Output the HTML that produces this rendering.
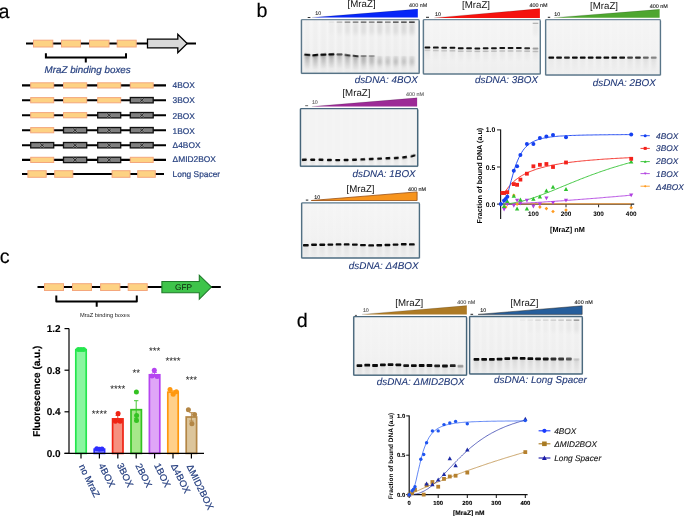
<!DOCTYPE html>
<html><head><meta charset="utf-8"><title>MraZ binding figure</title>
<style>html,body{margin:0;padding:0;background:#fff;overflow:hidden}svg{display:block;position:absolute;left:0;top:0}text{font-family:"Liberation Sans",Arial,sans-serif;text-rendering:geometricPrecision}</style>
</head><body>
<svg width="685" height="516" viewBox="0 0 685 516">
<rect width="685" height="516" fill="#fff"/>
<defs>
<filter id="b1" x="-20%" y="-100%" width="140%" height="300%"><feGaussianBlur stdDeviation="0.7 0.55"/></filter>
<filter id="b2" x="-30%" y="-50%" width="160%" height="200%"><feGaussianBlur stdDeviation="1.2 2.2"/></filter>
<filter id="b3" x="-30%" y="-30%" width="160%" height="160%"><feGaussianBlur stdDeviation="1.0 1.0"/></filter>
<linearGradient id="gelbg" x1="0" y1="0" x2="0" y2="1"><stop offset="0" stop-color="#f6f6f6"/><stop offset="0.6" stop-color="#f3f3f3"/><stop offset="1" stop-color="#efefef"/></linearGradient>
<filter id="b4" x="-30%" y="-10%" width="160%" height="120%"><feGaussianBlur stdDeviation="0.9 0.5"/></filter>
<linearGradient id="sm" x1="0" y1="0" x2="0" y2="1"><stop offset="0" stop-color="#000" stop-opacity="1"/><stop offset="0.35" stop-color="#000" stop-opacity="0.55"/><stop offset="1" stop-color="#000" stop-opacity="0"/></linearGradient>
</defs>
<text x="-1.60" y="18.40" font-size="19.7" fill="#000" stroke="#000" stroke-width="0.15" >a</text>
<text x="256.60" y="17.30" font-size="19.7" fill="#000" stroke="#000" stroke-width="0.15" >b</text>
<text x="-0.20" y="262.80" font-size="19.7" fill="#000" stroke="#000" stroke-width="0.15" >c</text>
<text x="296.70" y="327.10" font-size="19.7" fill="#000" stroke="#000" stroke-width="0.15" >d</text>
<line x1="26" y1="43.5" x2="196" y2="43.5" stroke="#000" stroke-width="2.1"/>
<rect x="33.5" y="40.2" width="19.3" height="6.8" fill="#fdd283" stroke="#f4a77c" stroke-width="1"/>
<rect x="61.5" y="40.2" width="19.0" height="6.8" fill="#fdd283" stroke="#f4a77c" stroke-width="1"/>
<rect x="89.5" y="40.2" width="19.5" height="6.8" fill="#fdd283" stroke="#f4a77c" stroke-width="1"/>
<rect x="117.2" y="40.2" width="19.0" height="6.8" fill="#fdd283" stroke="#f4a77c" stroke-width="1"/>
<path d="M147.5 39.2H177.8V34.2L187.2 43.5L177.8 52.6V47.8H147.5Z" fill="#d9d9d9" stroke="#000" stroke-width="1.3" stroke-linejoin="miter"/>
<path d="M45.9 53.3V57.6H126V53.3M85.8 57.6V62.6" fill="none" stroke="#000" stroke-width="2"/>
<text x="44.60" y="72.60" font-size="9.8" fill="#253f7f" stroke="#253f7f" stroke-width="0.2" font-style="italic" >MraZ binding boxes</text>
<line x1="22" y1="85.4" x2="166" y2="85.4" stroke="#000" stroke-width="2.1"/>
<rect x="30.7" y="82.8" width="23.0" height="5.2" fill="#fdd283" stroke="#f4a77c" stroke-width="1"/>
<rect x="63.5" y="82.8" width="23.2" height="5.2" fill="#fdd283" stroke="#f4a77c" stroke-width="1"/>
<rect x="97.7" y="82.8" width="23.0" height="5.2" fill="#fdd283" stroke="#f4a77c" stroke-width="1"/>
<rect x="130.3" y="82.8" width="22.9" height="5.2" fill="#fdd283" stroke="#f4a77c" stroke-width="1"/>
<text x="172.60" y="87.80" font-size="8.4" fill="#253f7f" stroke="#253f7f" stroke-width="0.2" >4BOX</text>
<line x1="22" y1="100.2" x2="166" y2="100.2" stroke="#000" stroke-width="2.1"/>
<rect x="30.7" y="97.6" width="23.0" height="5.2" fill="#fdd283" stroke="#f4a77c" stroke-width="1"/>
<rect x="63.5" y="97.6" width="23.2" height="5.2" fill="#fdd283" stroke="#f4a77c" stroke-width="1"/>
<rect x="97.7" y="97.6" width="23.0" height="5.2" fill="#fdd283" stroke="#f4a77c" stroke-width="1"/>
<rect x="130.3" y="97.5" width="22.9" height="5.4" fill="#7f7f7f" stroke="#111" stroke-width="1.3"/>
<path d="M139.6 98.3L143.9 102.1M143.9 98.3L139.6 102.1" stroke="#a2a2a2" stroke-width="1.5" fill="none"/>
<path d="M139.6 98.3L143.9 102.1M143.9 98.3L139.6 102.1" stroke="#111" stroke-width="0.8" fill="none"/>
<text x="172.60" y="103.10" font-size="8.4" fill="#253f7f" stroke="#253f7f" stroke-width="0.2" >3BOX</text>
<line x1="22" y1="115.2" x2="166" y2="115.2" stroke="#000" stroke-width="2.1"/>
<rect x="30.7" y="112.6" width="23.0" height="5.2" fill="#fdd283" stroke="#f4a77c" stroke-width="1"/>
<rect x="63.5" y="112.6" width="23.2" height="5.2" fill="#fdd283" stroke="#f4a77c" stroke-width="1"/>
<rect x="97.7" y="112.5" width="23.0" height="5.4" fill="#7f7f7f" stroke="#111" stroke-width="1.3"/>
<path d="M107.0 113.3L111.4 117.1M111.4 113.3L107.0 117.1" stroke="#a2a2a2" stroke-width="1.5" fill="none"/>
<path d="M107.0 113.3L111.4 117.1M111.4 113.3L107.0 117.1" stroke="#111" stroke-width="0.8" fill="none"/>
<rect x="130.3" y="112.5" width="22.9" height="5.4" fill="#7f7f7f" stroke="#111" stroke-width="1.3"/>
<path d="M139.6 113.3L143.9 117.1M143.9 113.3L139.6 117.1" stroke="#a2a2a2" stroke-width="1.5" fill="none"/>
<path d="M139.6 113.3L143.9 117.1M143.9 113.3L139.6 117.1" stroke="#111" stroke-width="0.8" fill="none"/>
<text x="172.60" y="118.70" font-size="8.4" fill="#253f7f" stroke="#253f7f" stroke-width="0.2" >2BOX</text>
<line x1="22" y1="130.2" x2="166" y2="130.2" stroke="#000" stroke-width="2.1"/>
<rect x="30.7" y="127.6" width="23.0" height="5.2" fill="#fdd283" stroke="#f4a77c" stroke-width="1"/>
<rect x="63.5" y="127.5" width="23.2" height="5.4" fill="#7f7f7f" stroke="#111" stroke-width="1.3"/>
<path d="M72.9 128.3L77.3 132.1M77.3 128.3L72.9 132.1" stroke="#a2a2a2" stroke-width="1.5" fill="none"/>
<path d="M72.9 128.3L77.3 132.1M77.3 128.3L72.9 132.1" stroke="#111" stroke-width="0.8" fill="none"/>
<rect x="97.7" y="127.5" width="23.0" height="5.4" fill="#7f7f7f" stroke="#111" stroke-width="1.3"/>
<path d="M107.0 128.3L111.4 132.1M111.4 128.3L107.0 132.1" stroke="#a2a2a2" stroke-width="1.5" fill="none"/>
<path d="M107.0 128.3L111.4 132.1M111.4 128.3L107.0 132.1" stroke="#111" stroke-width="0.8" fill="none"/>
<rect x="130.3" y="127.5" width="22.9" height="5.4" fill="#7f7f7f" stroke="#111" stroke-width="1.3"/>
<path d="M139.6 128.3L143.9 132.1M143.9 128.3L139.6 132.1" stroke="#a2a2a2" stroke-width="1.5" fill="none"/>
<path d="M139.6 128.3L143.9 132.1M143.9 128.3L139.6 132.1" stroke="#111" stroke-width="0.8" fill="none"/>
<text x="172.60" y="133.80" font-size="8.4" fill="#253f7f" stroke="#253f7f" stroke-width="0.2" >1BOX</text>
<line x1="22" y1="145.2" x2="166" y2="145.2" stroke="#000" stroke-width="2.1"/>
<rect x="30.7" y="142.5" width="23.0" height="5.4" fill="#7f7f7f" stroke="#111" stroke-width="1.3"/>
<path d="M40.0 143.3L44.4 147.1M44.4 143.3L40.0 147.1" stroke="#a2a2a2" stroke-width="1.5" fill="none"/>
<path d="M40.0 143.3L44.4 147.1M44.4 143.3L40.0 147.1" stroke="#111" stroke-width="0.8" fill="none"/>
<rect x="63.5" y="142.5" width="23.2" height="5.4" fill="#7f7f7f" stroke="#111" stroke-width="1.3"/>
<path d="M72.9 143.3L77.3 147.1M77.3 143.3L72.9 147.1" stroke="#a2a2a2" stroke-width="1.5" fill="none"/>
<path d="M72.9 143.3L77.3 147.1M77.3 143.3L72.9 147.1" stroke="#111" stroke-width="0.8" fill="none"/>
<rect x="97.7" y="142.5" width="23.0" height="5.4" fill="#7f7f7f" stroke="#111" stroke-width="1.3"/>
<path d="M107.0 143.3L111.4 147.1M111.4 143.3L107.0 147.1" stroke="#a2a2a2" stroke-width="1.5" fill="none"/>
<path d="M107.0 143.3L111.4 147.1M111.4 143.3L107.0 147.1" stroke="#111" stroke-width="0.8" fill="none"/>
<rect x="130.3" y="142.5" width="22.9" height="5.4" fill="#7f7f7f" stroke="#111" stroke-width="1.3"/>
<path d="M139.6 143.3L143.9 147.1M143.9 143.3L139.6 147.1" stroke="#a2a2a2" stroke-width="1.5" fill="none"/>
<path d="M139.6 143.3L143.9 147.1M143.9 143.3L139.6 147.1" stroke="#111" stroke-width="0.8" fill="none"/>
<text x="172.60" y="148.25" font-size="8.4" fill="#253f7f" stroke="#253f7f" stroke-width="0.2" >Δ4BOX</text>
<line x1="22" y1="159.9" x2="166" y2="159.9" stroke="#000" stroke-width="2.1"/>
<rect x="30.7" y="157.3" width="23.0" height="5.2" fill="#fdd283" stroke="#f4a77c" stroke-width="1"/>
<rect x="63.5" y="157.2" width="23.2" height="5.4" fill="#7f7f7f" stroke="#111" stroke-width="1.3"/>
<path d="M72.9 158.0L77.3 161.8M77.3 158.0L72.9 161.8" stroke="#a2a2a2" stroke-width="1.5" fill="none"/>
<path d="M72.9 158.0L77.3 161.8M77.3 158.0L72.9 161.8" stroke="#111" stroke-width="0.8" fill="none"/>
<rect x="97.7" y="157.2" width="23.0" height="5.4" fill="#7f7f7f" stroke="#111" stroke-width="1.3"/>
<path d="M107.0 158.0L111.4 161.8M111.4 158.0L107.0 161.8" stroke="#a2a2a2" stroke-width="1.5" fill="none"/>
<path d="M107.0 158.0L111.4 161.8M111.4 158.0L107.0 161.8" stroke="#111" stroke-width="0.8" fill="none"/>
<rect x="130.3" y="157.3" width="22.9" height="5.2" fill="#fdd283" stroke="#f4a77c" stroke-width="1"/>
<text x="172.60" y="161.80" font-size="8.4" fill="#253f7f" stroke="#253f7f" stroke-width="0.2" >ΔMID2BOX</text>
<line x1="22" y1="174.0" x2="164" y2="174.0" stroke="#000" stroke-width="2.1"/>
<rect x="27.9" y="170.7" width="18.3" height="6.6" fill="#fdd283" stroke="#f4a77c" stroke-width="1"/>
<rect x="54.7" y="170.7" width="18.1" height="6.6" fill="#fdd283" stroke="#f4a77c" stroke-width="1"/>
<rect x="112.1" y="170.7" width="17.9" height="6.6" fill="#fdd283" stroke="#f4a77c" stroke-width="1"/>
<rect x="137.7" y="170.7" width="17.6" height="6.6" fill="#fdd283" stroke="#f4a77c" stroke-width="1"/>
<text x="172.60" y="177.20" font-size="8.4" fill="#253f7f" stroke="#253f7f" stroke-width="0.2" >Long Spacer</text>
<g>
<rect x="301.55" y="19.65" width="117.50" height="53.60" fill="url(#gelbg)"/>
<clipPath id="c301_19"><rect x="301.55" y="19.65" width="117.50" height="53.60"/></clipPath>
<g clip-path="url(#c301_19)">
<rect x="304.6" y="19.6" width="5.4" height="53.6" fill="#000" opacity="0.02" filter="url(#b3)"/>
<rect x="304.7" y="54.3" width="5.2" height="15" fill="url(#sm)" opacity="0.35" filter="url(#b4)"/>
<rect x="304.3" y="53.75" width="6.0" height="2.1" rx="0.7" fill="#000" opacity="0.95" filter="url(#b1)" transform="rotate(6 307.3 54.8)"/>
<rect x="312.6" y="19.6" width="5.4" height="53.6" fill="#000" opacity="0.02" filter="url(#b3)"/>
<rect x="312.7" y="54.6" width="5.2" height="15" fill="url(#sm)" opacity="0.35" filter="url(#b4)"/>
<rect x="312.3" y="54.05" width="6.0" height="2.1" rx="0.7" fill="#000" opacity="0.95" filter="url(#b1)" transform="rotate(-8 315.3 55.1)"/>
<rect x="320.7" y="19.6" width="5.4" height="53.6" fill="#000" opacity="0.02" filter="url(#b3)"/>
<rect x="320.8" y="54.1" width="5.2" height="15" fill="url(#sm)" opacity="0.35" filter="url(#b4)"/>
<rect x="320.4" y="53.55" width="6.0" height="2.1" rx="0.7" fill="#000" opacity="0.95" filter="url(#b1)" transform="rotate(-4 323.4 54.6)"/>
<rect x="328.7" y="19.6" width="5.4" height="53.6" fill="#000" opacity="0.02" filter="url(#b3)"/>
<rect x="328.8" y="53.9" width="5.2" height="15" fill="url(#sm)" opacity="0.35" filter="url(#b4)"/>
<rect x="328.4" y="53.35" width="6.0" height="2.1" rx="0.7" fill="#000" opacity="0.95" filter="url(#b1)" transform="rotate(-3 331.4 54.4)"/>
<rect x="328.6" y="21.5" width="5.6" height="1.3" fill="#000" opacity="0.05" filter="url(#b1)"/>
<rect x="328.8" y="22.0" width="5.2" height="12" fill="#000" opacity="0.01" filter="url(#b2)"/>
<rect x="336.8" y="19.6" width="5.4" height="53.6" fill="#000" opacity="0.02" filter="url(#b3)"/>
<rect x="336.9" y="53.9" width="5.2" height="15" fill="url(#sm)" opacity="0.26" filter="url(#b4)"/>
<rect x="336.5" y="53.35" width="6.0" height="2.1" rx="0.7" fill="#000" opacity="0.55" filter="url(#b1)"/>
<rect x="336.7" y="21.5" width="5.6" height="1.3" fill="#000" opacity="0.25" filter="url(#b1)"/>
<rect x="336.9" y="22.0" width="5.2" height="12" fill="#000" opacity="0.03" filter="url(#b2)"/>
<rect x="344.8" y="19.6" width="5.4" height="53.6" fill="#000" opacity="0.02" filter="url(#b3)"/>
<rect x="344.9" y="54.7" width="5.2" height="15" fill="url(#sm)" opacity="0.31" filter="url(#b4)"/>
<rect x="344.5" y="54.15" width="6.0" height="2.1" rx="0.7" fill="#000" opacity="0.70" filter="url(#b1)" transform="rotate(10 347.5 55.2)"/>
<rect x="344.7" y="21.5" width="5.6" height="1.3" fill="#000" opacity="0.45" filter="url(#b1)"/>
<rect x="344.9" y="22.0" width="5.2" height="12" fill="#000" opacity="0.05" filter="url(#b2)"/>
<rect x="352.9" y="19.6" width="5.4" height="53.6" fill="#000" opacity="0.02" filter="url(#b3)"/>
<rect x="353.0" y="55.5" width="5.2" height="15" fill="url(#sm)" opacity="0.31" filter="url(#b4)"/>
<rect x="352.6" y="54.95" width="6.0" height="2.1" rx="0.7" fill="#000" opacity="0.70" filter="url(#b1)" transform="rotate(8 355.6 56.0)"/>
<rect x="352.8" y="21.5" width="5.6" height="1.3" fill="#000" opacity="0.50" filter="url(#b1)"/>
<rect x="353.0" y="22.0" width="5.2" height="12" fill="#000" opacity="0.06" filter="url(#b2)"/>
<rect x="360.9" y="19.6" width="5.4" height="53.6" fill="#000" opacity="0.02" filter="url(#b3)"/>
<rect x="361.0" y="55.5" width="5.2" height="15" fill="url(#sm)" opacity="0.26" filter="url(#b4)"/>
<ellipse cx="363.6" cy="61.0" rx="2.6" ry="3.2" fill="#000" opacity="0.08" filter="url(#b2)"/>
<rect x="360.6" y="54.95" width="6.0" height="2.1" rx="0.7" fill="#000" opacity="0.30" filter="url(#b1)"/>
<rect x="360.8" y="21.5" width="5.6" height="1.3" fill="#000" opacity="0.60" filter="url(#b1)"/>
<rect x="361.0" y="22.0" width="5.2" height="12" fill="#000" opacity="0.07" filter="url(#b2)"/>
<rect x="369.0" y="19.6" width="5.4" height="53.6" fill="#000" opacity="0.02" filter="url(#b3)"/>
<rect x="369.1" y="55.5" width="5.2" height="15" fill="url(#sm)" opacity="0.22" filter="url(#b4)"/>
<ellipse cx="371.7" cy="61.0" rx="2.6" ry="3.2" fill="#000" opacity="0.10" filter="url(#b2)"/>
<rect x="368.7" y="54.95" width="6.0" height="2.1" rx="0.7" fill="#000" opacity="0.22" filter="url(#b1)"/>
<rect x="368.9" y="21.5" width="5.6" height="1.3" fill="#000" opacity="0.50" filter="url(#b1)"/>
<rect x="369.1" y="22.0" width="5.2" height="12" fill="#000" opacity="0.06" filter="url(#b2)"/>
<rect x="377.0" y="19.6" width="5.4" height="53.6" fill="#000" opacity="0.02" filter="url(#b3)"/>
<rect x="377.1" y="56.3" width="5.2" height="15" fill="url(#sm)" opacity="0.07" filter="url(#b4)"/>
<ellipse cx="379.7" cy="61.8" rx="2.6" ry="3.2" fill="#000" opacity="0.17" filter="url(#b2)"/>
<rect x="376.9" y="21.5" width="5.6" height="1.3" fill="#000" opacity="0.65" filter="url(#b1)"/>
<rect x="377.1" y="22.0" width="5.2" height="12" fill="#000" opacity="0.08" filter="url(#b2)"/>
<rect x="385.1" y="19.6" width="5.4" height="53.6" fill="#000" opacity="0.02" filter="url(#b3)"/>
<rect x="385.2" y="56.3" width="5.2" height="15" fill="url(#sm)" opacity="0.07" filter="url(#b4)"/>
<ellipse cx="387.8" cy="61.8" rx="2.6" ry="3.2" fill="#000" opacity="0.15" filter="url(#b2)"/>
<rect x="385.0" y="21.5" width="5.6" height="1.3" fill="#000" opacity="0.50" filter="url(#b1)"/>
<rect x="385.2" y="22.0" width="5.2" height="12" fill="#000" opacity="0.06" filter="url(#b2)"/>
<rect x="393.1" y="19.6" width="5.4" height="53.6" fill="#000" opacity="0.02" filter="url(#b3)"/>
<rect x="393.2" y="56.3" width="5.2" height="15" fill="url(#sm)" opacity="0.07" filter="url(#b4)"/>
<ellipse cx="395.8" cy="61.8" rx="2.6" ry="3.2" fill="#000" opacity="0.17" filter="url(#b2)"/>
<rect x="393.0" y="21.5" width="5.6" height="1.3" fill="#000" opacity="0.70" filter="url(#b1)"/>
<rect x="393.2" y="22.0" width="5.2" height="12" fill="#000" opacity="0.08" filter="url(#b2)"/>
<rect x="401.2" y="19.6" width="5.4" height="53.6" fill="#000" opacity="0.02" filter="url(#b3)"/>
<rect x="401.3" y="56.3" width="5.2" height="15" fill="url(#sm)" opacity="0.07" filter="url(#b4)"/>
<ellipse cx="403.9" cy="61.8" rx="2.6" ry="3.2" fill="#000" opacity="0.15" filter="url(#b2)"/>
<rect x="401.1" y="21.5" width="5.6" height="1.3" fill="#000" opacity="0.75" filter="url(#b1)"/>
<rect x="401.3" y="22.0" width="5.2" height="12" fill="#000" opacity="0.09" filter="url(#b2)"/>
<rect x="409.2" y="19.6" width="5.4" height="53.6" fill="#000" opacity="0.02" filter="url(#b3)"/>
<rect x="409.3" y="56.3" width="5.2" height="15" fill="url(#sm)" opacity="0.07" filter="url(#b4)"/>
<ellipse cx="411.9" cy="61.8" rx="2.6" ry="3.2" fill="#000" opacity="0.15" filter="url(#b2)"/>
<rect x="409.1" y="21.5" width="5.6" height="1.3" fill="#000" opacity="0.85" filter="url(#b1)"/>
<rect x="409.3" y="22.0" width="5.2" height="12" fill="#000" opacity="0.10" filter="url(#b2)"/>
</g>
<rect x="301.55" y="19.65" width="117.50" height="53.60" rx="0.8" fill="none" stroke="#71899a" stroke-width="1.3"/>
<path d="M301.20 19.65V73.60H419.40V20.65" fill="none" stroke="#3f5f74" stroke-width="0.6" stroke-linejoin="round"/>
<path d="M312.0 17.6L417.8 9.0V17.6Z" fill="#0626f8"/>
<path d="M312.0 17.5L417.8 9.2" stroke="#000" stroke-opacity="0.3" stroke-width="0.5" fill="none"/>
<text x="361.60" y="6.90" font-size="9.7" fill="#111" text-anchor="middle" >[MraZ]</text>
<text x="409.10" y="6.70" font-size="5.45" fill="#333" stroke="#333" stroke-width="0.12" >400 nM</text>
<text x="315.30" y="15.30" font-size="5.3" fill="#333" stroke="#333" stroke-width="0.12" >10</text>
<rect x="307.7" y="17.0" width="2.7" height="1" fill="#333"/>
<text x="417.80" y="83.00" font-size="9.9" fill="#1f3777" stroke="#1f3777" stroke-width="0.1" text-anchor="end" font-style="italic" >dsDNA: 4BOX</text>
</g>
<g>
<rect x="423.50" y="19.70" width="116.65" height="54.15" fill="url(#gelbg)"/>
<clipPath id="c423_19"><rect x="423.50" y="19.70" width="116.65" height="54.15"/></clipPath>
<g clip-path="url(#c423_19)">
<rect x="424.8" y="19.7" width="5.4" height="54.1" fill="#000" opacity="0.005" filter="url(#b3)"/>
<rect x="424.9" y="46.9" width="5.2" height="15" fill="url(#sm)" opacity="0.07" filter="url(#b4)"/>
<rect x="424.6" y="46.40" width="5.7" height="2.0" rx="0.7" fill="#000" opacity="0.95" filter="url(#b1)"/>
<rect x="424.6" y="49.7" width="5.7" height="1.4" fill="#000" opacity="0.12" filter="url(#b1)"/>
<rect x="433.1" y="19.7" width="5.4" height="54.1" fill="#000" opacity="0.005" filter="url(#b3)"/>
<rect x="433.2" y="47.1" width="5.2" height="15" fill="url(#sm)" opacity="0.07" filter="url(#b4)"/>
<rect x="433.0" y="46.60" width="5.7" height="2.0" rx="0.7" fill="#000" opacity="0.90" filter="url(#b1)"/>
<rect x="433.0" y="49.9" width="5.7" height="1.4" fill="#000" opacity="0.15" filter="url(#b1)"/>
<rect x="441.4" y="19.7" width="5.4" height="54.1" fill="#000" opacity="0.005" filter="url(#b3)"/>
<rect x="441.5" y="47.3" width="5.2" height="15" fill="url(#sm)" opacity="0.07" filter="url(#b4)"/>
<rect x="441.3" y="46.80" width="5.7" height="2.0" rx="0.7" fill="#000" opacity="0.90" filter="url(#b1)"/>
<rect x="441.3" y="50.1" width="5.7" height="1.4" fill="#000" opacity="0.15" filter="url(#b1)"/>
<rect x="449.7" y="19.7" width="5.4" height="54.1" fill="#000" opacity="0.005" filter="url(#b3)"/>
<rect x="449.8" y="47.3" width="5.2" height="15" fill="url(#sm)" opacity="0.07" filter="url(#b4)"/>
<rect x="449.6" y="46.80" width="5.7" height="2.0" rx="0.7" fill="#000" opacity="0.92" filter="url(#b1)"/>
<rect x="449.6" y="50.1" width="5.7" height="1.4" fill="#000" opacity="0.18" filter="url(#b1)"/>
<rect x="458.0" y="19.7" width="5.4" height="54.1" fill="#000" opacity="0.005" filter="url(#b3)"/>
<rect x="458.1" y="47.7" width="5.2" height="15" fill="url(#sm)" opacity="0.07" filter="url(#b4)"/>
<rect x="457.9" y="47.20" width="5.7" height="2.0" rx="0.7" fill="#000" opacity="0.92" filter="url(#b1)"/>
<rect x="457.9" y="50.5" width="5.7" height="1.4" fill="#000" opacity="0.18" filter="url(#b1)"/>
<rect x="466.3" y="19.7" width="5.4" height="54.1" fill="#000" opacity="0.005" filter="url(#b3)"/>
<rect x="466.4" y="47.7" width="5.2" height="15" fill="url(#sm)" opacity="0.07" filter="url(#b4)"/>
<rect x="466.2" y="47.20" width="5.7" height="2.0" rx="0.7" fill="#000" opacity="0.90" filter="url(#b1)"/>
<rect x="466.2" y="50.5" width="5.7" height="1.4" fill="#000" opacity="0.18" filter="url(#b1)"/>
<rect x="474.6" y="19.7" width="5.4" height="54.1" fill="#000" opacity="0.005" filter="url(#b3)"/>
<rect x="474.7" y="47.9" width="5.2" height="15" fill="url(#sm)" opacity="0.07" filter="url(#b4)"/>
<rect x="474.5" y="47.40" width="5.7" height="2.0" rx="0.7" fill="#000" opacity="0.90" filter="url(#b1)"/>
<rect x="474.5" y="50.7" width="5.7" height="1.4" fill="#000" opacity="0.18" filter="url(#b1)"/>
<rect x="483.0" y="19.7" width="5.4" height="54.1" fill="#000" opacity="0.005" filter="url(#b3)"/>
<rect x="483.1" y="47.8" width="5.2" height="15" fill="url(#sm)" opacity="0.07" filter="url(#b4)"/>
<rect x="482.8" y="47.30" width="5.7" height="2.0" rx="0.7" fill="#000" opacity="0.90" filter="url(#b1)"/>
<rect x="482.8" y="50.6" width="5.7" height="1.4" fill="#000" opacity="0.18" filter="url(#b1)"/>
<rect x="491.3" y="19.7" width="5.4" height="54.1" fill="#000" opacity="0.005" filter="url(#b3)"/>
<rect x="491.4" y="47.7" width="5.2" height="15" fill="url(#sm)" opacity="0.07" filter="url(#b4)"/>
<rect x="491.1" y="47.20" width="5.7" height="2.0" rx="0.7" fill="#000" opacity="0.90" filter="url(#b1)"/>
<rect x="491.1" y="50.5" width="5.7" height="1.4" fill="#000" opacity="0.18" filter="url(#b1)"/>
<rect x="499.6" y="19.7" width="5.4" height="54.1" fill="#000" opacity="0.005" filter="url(#b3)"/>
<rect x="499.7" y="47.5" width="5.2" height="15" fill="url(#sm)" opacity="0.07" filter="url(#b4)"/>
<rect x="499.4" y="47.00" width="5.7" height="2.0" rx="0.7" fill="#000" opacity="0.90" filter="url(#b1)"/>
<rect x="499.4" y="50.3" width="5.7" height="1.4" fill="#000" opacity="0.18" filter="url(#b1)"/>
<rect x="507.9" y="19.7" width="5.4" height="54.1" fill="#000" opacity="0.005" filter="url(#b3)"/>
<rect x="508.0" y="47.5" width="5.2" height="15" fill="url(#sm)" opacity="0.07" filter="url(#b4)"/>
<rect x="507.7" y="47.00" width="5.7" height="2.0" rx="0.7" fill="#000" opacity="0.90" filter="url(#b1)"/>
<rect x="507.7" y="50.3" width="5.7" height="1.4" fill="#000" opacity="0.18" filter="url(#b1)"/>
<rect x="516.2" y="19.7" width="5.4" height="54.1" fill="#000" opacity="0.005" filter="url(#b3)"/>
<rect x="516.3" y="47.5" width="5.2" height="15" fill="url(#sm)" opacity="0.07" filter="url(#b4)"/>
<rect x="516.0" y="47.00" width="5.7" height="2.0" rx="0.7" fill="#000" opacity="0.90" filter="url(#b1)"/>
<rect x="516.0" y="50.3" width="5.7" height="1.4" fill="#000" opacity="0.18" filter="url(#b1)"/>
<rect x="524.5" y="19.7" width="5.4" height="54.1" fill="#000" opacity="0.005" filter="url(#b3)"/>
<rect x="524.6" y="47.7" width="5.2" height="15" fill="url(#sm)" opacity="0.07" filter="url(#b4)"/>
<rect x="524.3" y="47.20" width="5.7" height="2.0" rx="0.7" fill="#000" opacity="0.80" filter="url(#b1)"/>
<rect x="524.3" y="50.5" width="5.7" height="1.4" fill="#000" opacity="0.20" filter="url(#b1)"/>
<rect x="532.8" y="19.7" width="5.4" height="54.1" fill="#000" opacity="0.005" filter="url(#b3)"/>
<rect x="532.9" y="48.0" width="5.2" height="15" fill="url(#sm)" opacity="0.07" filter="url(#b4)"/>
<rect x="532.6" y="47.50" width="5.7" height="2.0" rx="0.7" fill="#000" opacity="0.30" filter="url(#b1)"/>
<rect x="532.6" y="50.8" width="5.7" height="1.4" fill="#000" opacity="0.18" filter="url(#b1)"/>
<rect x="532.7" y="22.7" width="5.6" height="1.3" fill="#000" opacity="0.25" filter="url(#b1)"/>
<rect x="532.9" y="23.2" width="5.2" height="12" fill="#000" opacity="0.03" filter="url(#b2)"/>
</g>
<rect x="423.50" y="19.70" width="116.65" height="54.15" rx="0.8" fill="none" stroke="#71899a" stroke-width="1.3"/>
<path d="M423.15 19.70V74.20H540.50V20.70" fill="none" stroke="#3f5f74" stroke-width="0.6" stroke-linejoin="round"/>
<path d="M434.2 17.9L539.9 8.6V17.9Z" fill="#f5130f"/>
<path d="M434.2 17.8L539.9 8.8" stroke="#000" stroke-opacity="0.3" stroke-width="0.5" fill="none"/>
<text x="476.00" y="7.50" font-size="9.7" fill="#111" text-anchor="middle" >[MraZ]</text>
<text x="529.40" y="6.80" font-size="5.45" fill="#222" stroke="#222" stroke-width="0.12" >400 nM</text>
<text x="435.00" y="15.55" font-size="5.3" fill="#222" stroke="#222" stroke-width="0.12" >10</text>
<rect x="426.0" y="16.8" width="3.0" height="1" fill="#222"/>
<text x="538.10" y="83.20" font-size="9.9" fill="#1f3777" stroke="#1f3777" stroke-width="0.1" text-anchor="end" font-style="italic" >dsDNA: 3BOX</text>
</g>
<g>
<rect x="545.75" y="19.60" width="114.60" height="55.30" fill="url(#gelbg)"/>
<clipPath id="c545_19"><rect x="545.75" y="19.60" width="114.60" height="55.30"/></clipPath>
<g clip-path="url(#c545_19)">
<rect x="548.5" y="19.6" width="5.4" height="55.3" fill="#000" opacity="0.005" filter="url(#b3)"/>
<rect x="548.6" y="57.1" width="5.2" height="15" fill="url(#sm)" opacity="0.04" filter="url(#b4)"/>
<rect x="548.4" y="56.40" width="5.7" height="2.4" rx="0.7" fill="#000" opacity="0.95" filter="url(#b1)"/>
<rect x="556.4" y="19.6" width="5.4" height="55.3" fill="#000" opacity="0.005" filter="url(#b3)"/>
<rect x="556.5" y="57.1" width="5.2" height="15" fill="url(#sm)" opacity="0.04" filter="url(#b4)"/>
<rect x="556.2" y="56.40" width="5.7" height="2.4" rx="0.7" fill="#000" opacity="0.92" filter="url(#b1)"/>
<rect x="564.3" y="19.6" width="5.4" height="55.3" fill="#000" opacity="0.005" filter="url(#b3)"/>
<rect x="564.4" y="57.1" width="5.2" height="15" fill="url(#sm)" opacity="0.04" filter="url(#b4)"/>
<rect x="564.1" y="56.40" width="5.7" height="2.4" rx="0.7" fill="#000" opacity="0.85" filter="url(#b1)"/>
<rect x="572.2" y="19.6" width="5.4" height="55.3" fill="#000" opacity="0.005" filter="url(#b3)"/>
<rect x="572.3" y="57.1" width="5.2" height="15" fill="url(#sm)" opacity="0.04" filter="url(#b4)"/>
<rect x="572.0" y="56.40" width="5.7" height="2.4" rx="0.7" fill="#000" opacity="0.95" filter="url(#b1)"/>
<rect x="580.0" y="19.6" width="5.4" height="55.3" fill="#000" opacity="0.005" filter="url(#b3)"/>
<rect x="580.1" y="57.1" width="5.2" height="15" fill="url(#sm)" opacity="0.04" filter="url(#b4)"/>
<rect x="579.9" y="56.40" width="5.7" height="2.4" rx="0.7" fill="#000" opacity="0.95" filter="url(#b1)"/>
<rect x="587.9" y="19.6" width="5.4" height="55.3" fill="#000" opacity="0.005" filter="url(#b3)"/>
<rect x="588.0" y="57.1" width="5.2" height="15" fill="url(#sm)" opacity="0.04" filter="url(#b4)"/>
<rect x="587.8" y="56.40" width="5.7" height="2.4" rx="0.7" fill="#000" opacity="0.95" filter="url(#b1)"/>
<rect x="595.8" y="19.6" width="5.4" height="55.3" fill="#000" opacity="0.005" filter="url(#b3)"/>
<rect x="595.9" y="57.1" width="5.2" height="15" fill="url(#sm)" opacity="0.04" filter="url(#b4)"/>
<rect x="595.7" y="56.40" width="5.7" height="2.4" rx="0.7" fill="#000" opacity="0.95" filter="url(#b1)"/>
<rect x="603.7" y="19.6" width="5.4" height="55.3" fill="#000" opacity="0.005" filter="url(#b3)"/>
<rect x="603.8" y="57.1" width="5.2" height="15" fill="url(#sm)" opacity="0.04" filter="url(#b4)"/>
<rect x="603.5" y="56.40" width="5.7" height="2.4" rx="0.7" fill="#000" opacity="0.95" filter="url(#b1)"/>
<rect x="611.6" y="19.6" width="5.4" height="55.3" fill="#000" opacity="0.005" filter="url(#b3)"/>
<rect x="611.7" y="57.1" width="5.2" height="15" fill="url(#sm)" opacity="0.04" filter="url(#b4)"/>
<rect x="611.4" y="56.40" width="5.7" height="2.4" rx="0.7" fill="#000" opacity="0.95" filter="url(#b1)"/>
<rect x="619.5" y="19.6" width="5.4" height="55.3" fill="#000" opacity="0.005" filter="url(#b3)"/>
<rect x="619.6" y="57.1" width="5.2" height="15" fill="url(#sm)" opacity="0.04" filter="url(#b4)"/>
<rect x="619.3" y="56.40" width="5.7" height="2.4" rx="0.7" fill="#000" opacity="0.92" filter="url(#b1)"/>
<rect x="627.3" y="19.6" width="5.4" height="55.3" fill="#000" opacity="0.005" filter="url(#b3)"/>
<rect x="627.4" y="57.1" width="5.2" height="15" fill="url(#sm)" opacity="0.07" filter="url(#b4)"/>
<rect x="627.2" y="56.40" width="5.7" height="2.4" rx="0.7" fill="#000" opacity="0.70" filter="url(#b1)"/>
<rect x="635.2" y="19.6" width="5.4" height="55.3" fill="#000" opacity="0.005" filter="url(#b3)"/>
<rect x="635.3" y="57.1" width="5.2" height="15" fill="url(#sm)" opacity="0.07" filter="url(#b4)"/>
<rect x="635.1" y="56.40" width="5.7" height="2.4" rx="0.7" fill="#000" opacity="0.80" filter="url(#b1)"/>
<rect x="643.1" y="19.6" width="5.4" height="55.3" fill="#000" opacity="0.005" filter="url(#b3)"/>
<rect x="643.2" y="57.1" width="5.2" height="15" fill="url(#sm)" opacity="0.09" filter="url(#b4)"/>
<rect x="643.0" y="56.40" width="5.7" height="2.4" rx="0.7" fill="#000" opacity="0.55" filter="url(#b1)"/>
<rect x="651.0" y="19.6" width="5.4" height="55.3" fill="#000" opacity="0.005" filter="url(#b3)"/>
<rect x="651.1" y="57.1" width="5.2" height="15" fill="url(#sm)" opacity="0.09" filter="url(#b4)"/>
<rect x="650.9" y="56.40" width="5.7" height="2.4" rx="0.7" fill="#000" opacity="0.40" filter="url(#b1)"/>
</g>
<rect x="545.75" y="19.60" width="114.60" height="55.30" rx="0.8" fill="none" stroke="#71899a" stroke-width="1.3"/>
<path d="M545.40 19.60V75.25H660.70V20.60" fill="none" stroke="#3f5f74" stroke-width="0.6" stroke-linejoin="round"/>
<path d="M554.0 17.7L659.6 9.3V17.7Z" fill="#4ea62f"/>
<path d="M554.0 17.6L659.6 9.5" stroke="#000" stroke-opacity="0.3" stroke-width="0.5" fill="none"/>
<text x="604.00" y="8.50" font-size="9.7" fill="#111" text-anchor="middle" >[MraZ]</text>
<text x="649.70" y="7.50" font-size="5.45" fill="#222" stroke="#222" stroke-width="0.12" >400 nM</text>
<text x="554.20" y="16.30" font-size="5.3" fill="#222" stroke="#222" stroke-width="0.12" >10</text>
<rect x="547.8" y="16.8" width="2.4" height="1" fill="#222"/>
<text x="655.90" y="85.50" font-size="9.9" fill="#1f3777" stroke="#1f3777" stroke-width="0.1" text-anchor="end" font-style="italic" >dsDNA: 2BOX</text>
</g>
<g>
<rect x="300.55" y="108.70" width="117.05" height="57.50" fill="#f4f4f4"/>
<clipPath id="c300_108"><rect x="300.55" y="108.70" width="117.05" height="57.50"/></clipPath>
<g clip-path="url(#c300_108)">
<rect x="301.6" y="108.7" width="5.4" height="57.5" fill="#000" opacity="0.004" filter="url(#b3)"/>
<rect x="301.7" y="159.3" width="5.2" height="15" fill="url(#sm)" opacity="0.07" filter="url(#b4)"/>
<rect x="301.9" y="158.60" width="4.8" height="2.4" rx="0.7" fill="#000" opacity="0.95" filter="url(#b1)" transform="rotate(-4 304.3 159.8)"/>
<rect x="310.0" y="108.7" width="5.4" height="57.5" fill="#000" opacity="0.004" filter="url(#b3)"/>
<rect x="310.1" y="159.3" width="5.2" height="15" fill="url(#sm)" opacity="0.07" filter="url(#b4)"/>
<rect x="310.3" y="158.60" width="4.8" height="2.4" rx="0.7" fill="#000" opacity="0.95" filter="url(#b1)"/>
<rect x="318.3" y="108.7" width="5.4" height="57.5" fill="#000" opacity="0.004" filter="url(#b3)"/>
<rect x="318.4" y="159.3" width="5.2" height="15" fill="url(#sm)" opacity="0.07" filter="url(#b4)"/>
<rect x="318.6" y="158.60" width="4.8" height="2.4" rx="0.7" fill="#000" opacity="0.95" filter="url(#b1)" transform="rotate(3 321.0 159.8)"/>
<rect x="326.7" y="108.7" width="5.4" height="57.5" fill="#000" opacity="0.004" filter="url(#b3)"/>
<rect x="326.8" y="159.5" width="5.2" height="15" fill="url(#sm)" opacity="0.07" filter="url(#b4)"/>
<rect x="327.0" y="158.80" width="4.8" height="2.4" rx="0.7" fill="#000" opacity="0.95" filter="url(#b1)"/>
<rect x="335.0" y="108.7" width="5.4" height="57.5" fill="#000" opacity="0.004" filter="url(#b3)"/>
<rect x="335.1" y="159.6" width="5.2" height="15" fill="url(#sm)" opacity="0.07" filter="url(#b4)"/>
<rect x="335.3" y="158.90" width="4.8" height="2.4" rx="0.7" fill="#000" opacity="0.95" filter="url(#b1)"/>
<rect x="343.4" y="108.7" width="5.4" height="57.5" fill="#000" opacity="0.004" filter="url(#b3)"/>
<rect x="343.5" y="159.5" width="5.2" height="15" fill="url(#sm)" opacity="0.07" filter="url(#b4)"/>
<rect x="343.7" y="158.80" width="4.8" height="2.4" rx="0.7" fill="#000" opacity="0.95" filter="url(#b1)"/>
<rect x="351.8" y="108.7" width="5.4" height="57.5" fill="#000" opacity="0.004" filter="url(#b3)"/>
<rect x="351.9" y="159.3" width="5.2" height="15" fill="url(#sm)" opacity="0.07" filter="url(#b4)"/>
<rect x="352.1" y="158.60" width="4.8" height="2.4" rx="0.7" fill="#000" opacity="0.95" filter="url(#b1)" transform="rotate(-3 354.5 159.8)"/>
<rect x="360.1" y="108.7" width="5.4" height="57.5" fill="#000" opacity="0.004" filter="url(#b3)"/>
<rect x="360.2" y="158.9" width="5.2" height="15" fill="url(#sm)" opacity="0.07" filter="url(#b4)"/>
<rect x="360.4" y="158.20" width="4.8" height="2.4" rx="0.7" fill="#000" opacity="0.95" filter="url(#b1)" transform="rotate(-4 362.8 159.4)"/>
<rect x="368.5" y="108.7" width="5.4" height="57.5" fill="#000" opacity="0.004" filter="url(#b3)"/>
<rect x="368.6" y="158.5" width="5.2" height="15" fill="url(#sm)" opacity="0.07" filter="url(#b4)"/>
<rect x="368.8" y="157.80" width="4.8" height="2.4" rx="0.7" fill="#000" opacity="0.95" filter="url(#b1)" transform="rotate(-4 371.2 159.0)"/>
<rect x="376.9" y="108.7" width="5.4" height="57.5" fill="#000" opacity="0.004" filter="url(#b3)"/>
<rect x="377.0" y="158.1" width="5.2" height="15" fill="url(#sm)" opacity="0.07" filter="url(#b4)"/>
<rect x="377.2" y="157.40" width="4.8" height="2.4" rx="0.7" fill="#000" opacity="0.95" filter="url(#b1)" transform="rotate(-4 379.6 158.6)"/>
<rect x="385.2" y="108.7" width="5.4" height="57.5" fill="#000" opacity="0.004" filter="url(#b3)"/>
<rect x="385.3" y="157.8" width="5.2" height="15" fill="url(#sm)" opacity="0.07" filter="url(#b4)"/>
<rect x="385.5" y="157.10" width="4.8" height="2.4" rx="0.7" fill="#000" opacity="0.95" filter="url(#b1)" transform="rotate(-4 387.9 158.3)"/>
<rect x="393.6" y="108.7" width="5.4" height="57.5" fill="#000" opacity="0.004" filter="url(#b3)"/>
<rect x="393.7" y="157.5" width="5.2" height="15" fill="url(#sm)" opacity="0.07" filter="url(#b4)"/>
<rect x="393.9" y="156.80" width="4.8" height="2.4" rx="0.7" fill="#000" opacity="0.95" filter="url(#b1)" transform="rotate(-6 396.3 158.0)"/>
<rect x="401.9" y="108.7" width="5.4" height="57.5" fill="#000" opacity="0.004" filter="url(#b3)"/>
<rect x="402.0" y="156.7" width="5.2" height="15" fill="url(#sm)" opacity="0.07" filter="url(#b4)"/>
<rect x="402.2" y="156.00" width="4.8" height="2.4" rx="0.7" fill="#000" opacity="0.95" filter="url(#b1)" transform="rotate(-10 404.6 157.2)"/>
<rect x="410.3" y="108.7" width="5.4" height="57.5" fill="#000" opacity="0.004" filter="url(#b3)"/>
<rect x="410.4" y="155.4" width="5.2" height="15" fill="url(#sm)" opacity="0.07" filter="url(#b4)"/>
<rect x="410.6" y="154.70" width="4.8" height="2.4" rx="0.7" fill="#000" opacity="0.95" filter="url(#b1)" transform="rotate(-19 413.0 155.9)"/>
</g>
<rect x="300.55" y="108.70" width="117.05" height="57.50" rx="0.8" fill="none" stroke="#4a697f" stroke-width="1.3"/>
<path d="M300.20 108.70V166.55H417.95V109.70" fill="none" stroke="#3f5f74" stroke-width="0.6" stroke-linejoin="round"/>
<path d="M311.9 106.6L417.1 97.7V106.6Z" fill="#9c2a96"/>
<path d="M311.9 106.5L417.1 97.9" stroke="#000" stroke-opacity="0.3" stroke-width="0.5" fill="none"/>
<text x="356.40" y="95.60" font-size="9.7" fill="#111" text-anchor="middle" >[MraZ]</text>
<text x="406.00" y="95.60" font-size="5.45" fill="#666" stroke="#666" stroke-width="0.12" >400 nM</text>
<text x="311.90" y="103.70" font-size="5.3" fill="#666" stroke="#666" stroke-width="0.12" >10</text>
<rect x="305.2" y="105.2" width="2.9" height="1" fill="#666"/>
<text x="415.70" y="176.70" font-size="9.9" fill="#1f3777" stroke="#1f3777" stroke-width="0.1" text-anchor="end" font-style="italic" >dsDNA: 1BOX</text>
</g>
<g>
<rect x="301.75" y="202.90" width="117.60" height="55.00" fill="url(#gelbg)"/>
<clipPath id="c301_202"><rect x="301.75" y="202.90" width="117.60" height="55.00"/></clipPath>
<g clip-path="url(#c301_202)">
<rect x="303.2" y="202.9" width="5.4" height="55.0" fill="#000" opacity="0.005" filter="url(#b3)"/>
<rect x="303.3" y="244.8" width="5.2" height="15" fill="url(#sm)" opacity="0.07" filter="url(#b4)"/>
<rect x="303.0" y="244.10" width="5.7" height="2.4" rx="0.7" fill="#000" opacity="0.95" filter="url(#b1)"/>
<rect x="311.4" y="202.9" width="5.4" height="55.0" fill="#000" opacity="0.005" filter="url(#b3)"/>
<rect x="311.5" y="244.3" width="5.2" height="15" fill="url(#sm)" opacity="0.07" filter="url(#b4)"/>
<rect x="311.2" y="243.60" width="5.7" height="2.4" rx="0.7" fill="#000" opacity="0.95" filter="url(#b1)"/>
<rect x="319.5" y="202.9" width="5.4" height="55.0" fill="#000" opacity="0.005" filter="url(#b3)"/>
<rect x="319.6" y="244.3" width="5.2" height="15" fill="url(#sm)" opacity="0.07" filter="url(#b4)"/>
<rect x="319.4" y="243.60" width="5.7" height="2.4" rx="0.7" fill="#000" opacity="0.95" filter="url(#b1)"/>
<rect x="327.7" y="202.9" width="5.4" height="55.0" fill="#000" opacity="0.005" filter="url(#b3)"/>
<rect x="327.8" y="244.1" width="5.2" height="15" fill="url(#sm)" opacity="0.07" filter="url(#b4)"/>
<rect x="327.5" y="243.40" width="5.7" height="2.4" rx="0.7" fill="#000" opacity="0.95" filter="url(#b1)"/>
<rect x="335.8" y="202.9" width="5.4" height="55.0" fill="#000" opacity="0.005" filter="url(#b3)"/>
<rect x="335.9" y="243.9" width="5.2" height="15" fill="url(#sm)" opacity="0.07" filter="url(#b4)"/>
<rect x="335.7" y="243.20" width="5.7" height="2.4" rx="0.7" fill="#000" opacity="0.95" filter="url(#b1)"/>
<rect x="344.0" y="202.9" width="5.4" height="55.0" fill="#000" opacity="0.005" filter="url(#b3)"/>
<rect x="344.1" y="243.9" width="5.2" height="15" fill="url(#sm)" opacity="0.07" filter="url(#b4)"/>
<rect x="343.8" y="243.20" width="5.7" height="2.4" rx="0.7" fill="#000" opacity="0.95" filter="url(#b1)"/>
<rect x="352.1" y="202.9" width="5.4" height="55.0" fill="#000" opacity="0.005" filter="url(#b3)"/>
<rect x="352.2" y="244.1" width="5.2" height="15" fill="url(#sm)" opacity="0.07" filter="url(#b4)"/>
<rect x="352.0" y="243.40" width="5.7" height="2.4" rx="0.7" fill="#000" opacity="0.95" filter="url(#b1)"/>
<rect x="360.3" y="202.9" width="5.4" height="55.0" fill="#000" opacity="0.005" filter="url(#b3)"/>
<rect x="360.4" y="244.6" width="5.2" height="15" fill="url(#sm)" opacity="0.07" filter="url(#b4)"/>
<rect x="360.1" y="243.90" width="5.7" height="2.4" rx="0.7" fill="#000" opacity="0.95" filter="url(#b1)"/>
<rect x="368.4" y="202.9" width="5.4" height="55.0" fill="#000" opacity="0.005" filter="url(#b3)"/>
<rect x="368.5" y="244.9" width="5.2" height="15" fill="url(#sm)" opacity="0.07" filter="url(#b4)"/>
<rect x="368.3" y="244.20" width="5.7" height="2.4" rx="0.7" fill="#000" opacity="0.95" filter="url(#b1)"/>
<rect x="376.6" y="202.9" width="5.4" height="55.0" fill="#000" opacity="0.005" filter="url(#b3)"/>
<rect x="376.7" y="244.7" width="5.2" height="15" fill="url(#sm)" opacity="0.07" filter="url(#b4)"/>
<rect x="376.4" y="244.00" width="5.7" height="2.4" rx="0.7" fill="#000" opacity="0.95" filter="url(#b1)"/>
<rect x="384.7" y="202.9" width="5.4" height="55.0" fill="#000" opacity="0.005" filter="url(#b3)"/>
<rect x="384.8" y="244.5" width="5.2" height="15" fill="url(#sm)" opacity="0.07" filter="url(#b4)"/>
<rect x="384.6" y="243.80" width="5.7" height="2.4" rx="0.7" fill="#000" opacity="0.95" filter="url(#b1)"/>
<rect x="392.9" y="202.9" width="5.4" height="55.0" fill="#000" opacity="0.005" filter="url(#b3)"/>
<rect x="393.0" y="244.1" width="5.2" height="15" fill="url(#sm)" opacity="0.07" filter="url(#b4)"/>
<rect x="392.7" y="243.40" width="5.7" height="2.4" rx="0.7" fill="#000" opacity="0.95" filter="url(#b1)"/>
<rect x="401.0" y="202.9" width="5.4" height="55.0" fill="#000" opacity="0.005" filter="url(#b3)"/>
<rect x="401.1" y="243.7" width="5.2" height="15" fill="url(#sm)" opacity="0.07" filter="url(#b4)"/>
<rect x="400.9" y="243.00" width="5.7" height="2.4" rx="0.7" fill="#000" opacity="0.95" filter="url(#b1)"/>
<rect x="409.2" y="202.9" width="5.4" height="55.0" fill="#000" opacity="0.005" filter="url(#b3)"/>
<rect x="409.3" y="243.9" width="5.2" height="15" fill="url(#sm)" opacity="0.07" filter="url(#b4)"/>
<rect x="409.0" y="243.20" width="5.7" height="2.4" rx="0.7" fill="#000" opacity="0.95" filter="url(#b1)"/>
</g>
<rect x="301.75" y="202.90" width="117.60" height="55.00" rx="0.8" fill="none" stroke="#5a788c" stroke-width="1.3"/>
<path d="M301.40 202.90V258.25H419.70V203.90" fill="none" stroke="#3f5f74" stroke-width="0.6" stroke-linejoin="round"/>
<path d="M311.3 200.5L417.1 191.9V200.5Z" fill="#f7941d" stroke="#9a4f12" stroke-width="0.8"/>
<text x="360.50" y="192.30" font-size="9.7" fill="#111" text-anchor="middle" >[MraZ]</text>
<text x="408.00" y="190.60" font-size="5.45" fill="#222" stroke="#222" stroke-width="0.12" >400 nM</text>
<text x="314.20" y="198.75" font-size="5.3" fill="#222" stroke="#222" stroke-width="0.12" >10</text>
<rect x="305.8" y="199.6" width="2.5" height="1" fill="#222"/>
<text x="418.60" y="268.80" font-size="9.9" fill="#1f3777" stroke="#1f3777" stroke-width="0.1" text-anchor="end" font-style="italic" >dsDNA: Δ4BOX</text>
</g>
<g>
<rect x="353.80" y="316.60" width="112.70" height="58.45" fill="url(#gelbg)"/>
<clipPath id="c353_316"><rect x="353.80" y="316.60" width="112.70" height="58.45"/></clipPath>
<g clip-path="url(#c353_316)">
<rect x="356.8" y="316.6" width="5.4" height="58.4" fill="#000" opacity="0.005" filter="url(#b3)"/>
<rect x="356.9" y="365.1" width="5.2" height="15" fill="url(#sm)" opacity="0.09" filter="url(#b4)"/>
<rect x="356.6" y="364.20" width="5.7" height="2.8" rx="0.7" fill="#000" opacity="0.95" filter="url(#b1)"/>
<rect x="364.6" y="316.6" width="5.4" height="58.4" fill="#000" opacity="0.005" filter="url(#b3)"/>
<rect x="364.7" y="364.7" width="5.2" height="15" fill="url(#sm)" opacity="0.09" filter="url(#b4)"/>
<rect x="364.4" y="363.80" width="5.7" height="2.8" rx="0.7" fill="#000" opacity="0.95" filter="url(#b1)"/>
<rect x="372.3" y="316.6" width="5.4" height="58.4" fill="#000" opacity="0.005" filter="url(#b3)"/>
<rect x="372.4" y="365.0" width="5.2" height="15" fill="url(#sm)" opacity="0.09" filter="url(#b4)"/>
<rect x="372.2" y="364.10" width="5.7" height="2.8" rx="0.7" fill="#000" opacity="0.95" filter="url(#b1)"/>
<rect x="380.1" y="316.6" width="5.4" height="58.4" fill="#000" opacity="0.005" filter="url(#b3)"/>
<rect x="380.2" y="364.4" width="5.2" height="15" fill="url(#sm)" opacity="0.09" filter="url(#b4)"/>
<rect x="380.0" y="363.50" width="5.7" height="2.8" rx="0.7" fill="#000" opacity="0.95" filter="url(#b1)"/>
<rect x="387.9" y="316.6" width="5.4" height="58.4" fill="#000" opacity="0.005" filter="url(#b3)"/>
<rect x="388.0" y="364.1" width="5.2" height="15" fill="url(#sm)" opacity="0.09" filter="url(#b4)"/>
<rect x="387.7" y="363.20" width="5.7" height="2.8" rx="0.7" fill="#000" opacity="0.95" filter="url(#b1)"/>
<rect x="395.6" y="316.6" width="5.4" height="58.4" fill="#000" opacity="0.005" filter="url(#b3)"/>
<rect x="395.7" y="364.4" width="5.2" height="15" fill="url(#sm)" opacity="0.09" filter="url(#b4)"/>
<rect x="395.5" y="363.50" width="5.7" height="2.8" rx="0.7" fill="#000" opacity="0.95" filter="url(#b1)"/>
<rect x="403.4" y="316.6" width="5.4" height="58.4" fill="#000" opacity="0.005" filter="url(#b3)"/>
<rect x="403.5" y="365.1" width="5.2" height="15" fill="url(#sm)" opacity="0.09" filter="url(#b4)"/>
<rect x="403.3" y="364.20" width="5.7" height="2.8" rx="0.7" fill="#000" opacity="0.90" filter="url(#b1)"/>
<rect x="411.2" y="316.6" width="5.4" height="58.4" fill="#000" opacity="0.005" filter="url(#b3)"/>
<rect x="411.3" y="365.1" width="5.2" height="15" fill="url(#sm)" opacity="0.09" filter="url(#b4)"/>
<rect x="411.0" y="364.20" width="5.7" height="2.8" rx="0.7" fill="#000" opacity="0.95" filter="url(#b1)"/>
<rect x="419.0" y="316.6" width="5.4" height="58.4" fill="#000" opacity="0.005" filter="url(#b3)"/>
<rect x="419.1" y="365.0" width="5.2" height="15" fill="url(#sm)" opacity="0.09" filter="url(#b4)"/>
<rect x="418.8" y="364.10" width="5.7" height="2.8" rx="0.7" fill="#000" opacity="0.95" filter="url(#b1)"/>
<rect x="426.7" y="316.6" width="5.4" height="58.4" fill="#000" opacity="0.005" filter="url(#b3)"/>
<rect x="426.8" y="365.0" width="5.2" height="15" fill="url(#sm)" opacity="0.09" filter="url(#b4)"/>
<rect x="426.6" y="364.10" width="5.7" height="2.8" rx="0.7" fill="#000" opacity="0.92" filter="url(#b1)"/>
<rect x="434.5" y="316.6" width="5.4" height="58.4" fill="#000" opacity="0.005" filter="url(#b3)"/>
<rect x="434.6" y="365.3" width="5.2" height="15" fill="url(#sm)" opacity="0.09" filter="url(#b4)"/>
<rect x="434.3" y="364.40" width="5.7" height="2.8" rx="0.7" fill="#000" opacity="0.85" filter="url(#b1)"/>
<rect x="442.3" y="316.6" width="5.4" height="58.4" fill="#000" opacity="0.005" filter="url(#b3)"/>
<rect x="442.4" y="365.5" width="5.2" height="15" fill="url(#sm)" opacity="0.09" filter="url(#b4)"/>
<rect x="442.1" y="364.60" width="5.7" height="2.8" rx="0.7" fill="#000" opacity="0.92" filter="url(#b1)"/>
<rect x="450.0" y="316.6" width="5.4" height="58.4" fill="#000" opacity="0.005" filter="url(#b3)"/>
<rect x="450.1" y="365.2" width="5.2" height="15" fill="url(#sm)" opacity="0.09" filter="url(#b4)"/>
<rect x="449.9" y="364.30" width="5.7" height="2.8" rx="0.7" fill="#000" opacity="0.85" filter="url(#b1)"/>
<rect x="457.8" y="316.6" width="5.4" height="58.4" fill="#000" opacity="0.005" filter="url(#b3)"/>
<rect x="457.9" y="365.7" width="5.2" height="15" fill="url(#sm)" opacity="0.09" filter="url(#b4)"/>
<rect x="457.6" y="364.80" width="5.7" height="2.8" rx="0.7" fill="#000" opacity="0.30" filter="url(#b1)"/>
</g>
<rect x="353.80" y="316.60" width="112.70" height="58.45" rx="0.8" fill="none" stroke="#4a697f" stroke-width="1.3"/>
<path d="M353.45 316.60V375.40H466.85V317.60" fill="none" stroke="#3f5f74" stroke-width="0.6" stroke-linejoin="round"/>
<path d="M361.9 314.4L466.8 305.5V314.4Z" fill="#ad7a25"/>
<path d="M361.9 314.3L466.8 305.7" stroke="#000" stroke-opacity="0.3" stroke-width="0.5" fill="none"/>
<text x="409.30" y="305.60" font-size="9.7" fill="#111" text-anchor="middle" >[MraZ]</text>
<text x="457.20" y="303.80" font-size="5.45" fill="#555" stroke="#555" stroke-width="0.12" >400 nM</text>
<text x="362.90" y="311.90" font-size="5.3" fill="#555" stroke="#555" stroke-width="0.12" >10</text>
<rect x="354.9" y="314.9" width="2.0" height="1" fill="#555"/>
<text x="464.60" y="384.60" font-size="9.9" fill="#1f3777" stroke="#1f3777" stroke-width="0.1" text-anchor="end" font-style="italic" >dsDNA: ΔMID2BOX</text>
</g>
<g>
<rect x="469.70" y="316.50" width="112.55" height="57.40" fill="url(#gelbg)"/>
<clipPath id="c469_316"><rect x="469.70" y="316.50" width="112.55" height="57.40"/></clipPath>
<g clip-path="url(#c469_316)">
<rect x="473.8" y="316.5" width="5.4" height="57.4" fill="#000" opacity="0.015" filter="url(#b3)"/>
<rect x="473.8" y="358.9" width="5.2" height="15" fill="url(#sm)" opacity="0.11" filter="url(#b4)"/>
<rect x="473.6" y="358.00" width="5.7" height="2.8" rx="0.7" fill="#000" opacity="0.95" filter="url(#b1)"/>
<rect x="481.4" y="316.5" width="5.4" height="57.4" fill="#000" opacity="0.015" filter="url(#b3)"/>
<rect x="481.5" y="358.8" width="5.2" height="15" fill="url(#sm)" opacity="0.11" filter="url(#b4)"/>
<rect x="481.3" y="357.90" width="5.7" height="2.8" rx="0.7" fill="#000" opacity="0.95" filter="url(#b1)"/>
<rect x="489.1" y="316.5" width="5.4" height="57.4" fill="#000" opacity="0.015" filter="url(#b3)"/>
<rect x="489.2" y="358.8" width="5.2" height="15" fill="url(#sm)" opacity="0.11" filter="url(#b4)"/>
<rect x="489.0" y="357.90" width="5.7" height="2.8" rx="0.7" fill="#000" opacity="0.95" filter="url(#b1)"/>
<rect x="496.8" y="316.5" width="5.4" height="57.4" fill="#000" opacity="0.015" filter="url(#b3)"/>
<rect x="496.9" y="358.6" width="5.2" height="15" fill="url(#sm)" opacity="0.11" filter="url(#b4)"/>
<rect x="496.7" y="357.70" width="5.7" height="2.8" rx="0.7" fill="#000" opacity="0.95" filter="url(#b1)"/>
<rect x="504.5" y="316.5" width="5.4" height="57.4" fill="#000" opacity="0.015" filter="url(#b3)"/>
<rect x="504.6" y="358.1" width="5.2" height="15" fill="url(#sm)" opacity="0.11" filter="url(#b4)"/>
<rect x="504.4" y="357.20" width="5.7" height="2.8" rx="0.7" fill="#000" opacity="0.95" filter="url(#b1)"/>
<rect x="512.2" y="316.5" width="5.4" height="57.4" fill="#000" opacity="0.015" filter="url(#b3)"/>
<rect x="512.3" y="357.7" width="5.2" height="15" fill="url(#sm)" opacity="0.11" filter="url(#b4)"/>
<rect x="512.1" y="356.80" width="5.7" height="2.8" rx="0.7" fill="#000" opacity="0.95" filter="url(#b1)"/>
<rect x="519.9" y="316.5" width="5.4" height="57.4" fill="#000" opacity="0.015" filter="url(#b3)"/>
<rect x="520.0" y="357.9" width="5.2" height="15" fill="url(#sm)" opacity="0.11" filter="url(#b4)"/>
<rect x="519.8" y="357.00" width="5.7" height="2.8" rx="0.7" fill="#000" opacity="0.95" filter="url(#b1)"/>
<rect x="519.8" y="319.5" width="5.6" height="1.3" fill="#000" opacity="0.03" filter="url(#b1)"/>
<rect x="520.0" y="320.0" width="5.2" height="12" fill="#000" opacity="0.00" filter="url(#b2)"/>
<rect x="527.6" y="316.5" width="5.4" height="57.4" fill="#000" opacity="0.015" filter="url(#b3)"/>
<rect x="527.7" y="358.2" width="5.2" height="15" fill="url(#sm)" opacity="0.11" filter="url(#b4)"/>
<rect x="527.5" y="357.30" width="5.7" height="2.8" rx="0.7" fill="#000" opacity="0.95" filter="url(#b1)"/>
<rect x="527.5" y="319.5" width="5.6" height="1.3" fill="#000" opacity="0.05" filter="url(#b1)"/>
<rect x="527.7" y="320.0" width="5.2" height="12" fill="#000" opacity="0.01" filter="url(#b2)"/>
<rect x="535.3" y="316.5" width="5.4" height="57.4" fill="#000" opacity="0.015" filter="url(#b3)"/>
<rect x="535.4" y="358.4" width="5.2" height="15" fill="url(#sm)" opacity="0.11" filter="url(#b4)"/>
<rect x="535.2" y="357.50" width="5.7" height="2.8" rx="0.7" fill="#000" opacity="0.92" filter="url(#b1)"/>
<rect x="535.2" y="319.5" width="5.6" height="1.3" fill="#000" opacity="0.12" filter="url(#b1)"/>
<rect x="535.4" y="320.0" width="5.2" height="12" fill="#000" opacity="0.01" filter="url(#b2)"/>
<rect x="543.0" y="316.5" width="5.4" height="57.4" fill="#000" opacity="0.015" filter="url(#b3)"/>
<rect x="543.1" y="358.5" width="5.2" height="15" fill="url(#sm)" opacity="0.11" filter="url(#b4)"/>
<rect x="542.9" y="357.60" width="5.7" height="2.8" rx="0.7" fill="#000" opacity="0.90" filter="url(#b1)"/>
<rect x="542.9" y="319.5" width="5.6" height="1.3" fill="#000" opacity="0.12" filter="url(#b1)"/>
<rect x="543.1" y="320.0" width="5.2" height="12" fill="#000" opacity="0.01" filter="url(#b2)"/>
<rect x="550.7" y="316.5" width="5.4" height="57.4" fill="#000" opacity="0.015" filter="url(#b3)"/>
<rect x="550.8" y="358.5" width="5.2" height="15" fill="url(#sm)" opacity="0.11" filter="url(#b4)"/>
<rect x="550.6" y="357.60" width="5.7" height="2.8" rx="0.7" fill="#000" opacity="0.80" filter="url(#b1)"/>
<rect x="550.6" y="319.5" width="5.6" height="1.3" fill="#000" opacity="0.15" filter="url(#b1)"/>
<rect x="550.8" y="320.0" width="5.2" height="12" fill="#000" opacity="0.02" filter="url(#b2)"/>
<rect x="558.4" y="316.5" width="5.4" height="57.4" fill="#000" opacity="0.015" filter="url(#b3)"/>
<rect x="558.5" y="358.5" width="5.2" height="15" fill="url(#sm)" opacity="0.11" filter="url(#b4)"/>
<rect x="558.3" y="357.60" width="5.7" height="2.8" rx="0.7" fill="#000" opacity="0.75" filter="url(#b1)"/>
<rect x="558.3" y="319.5" width="5.6" height="1.3" fill="#000" opacity="0.18" filter="url(#b1)"/>
<rect x="558.5" y="320.0" width="5.2" height="12" fill="#000" opacity="0.02" filter="url(#b2)"/>
<rect x="566.1" y="316.5" width="5.4" height="57.4" fill="#000" opacity="0.015" filter="url(#b3)"/>
<rect x="566.2" y="358.5" width="5.2" height="15" fill="url(#sm)" opacity="0.11" filter="url(#b4)"/>
<rect x="566.0" y="357.60" width="5.7" height="2.8" rx="0.7" fill="#000" opacity="0.60" filter="url(#b1)"/>
<rect x="566.0" y="319.5" width="5.6" height="1.3" fill="#000" opacity="0.22" filter="url(#b1)"/>
<rect x="566.2" y="320.0" width="5.2" height="12" fill="#000" opacity="0.03" filter="url(#b2)"/>
<rect x="573.8" y="316.5" width="5.4" height="57.4" fill="#000" opacity="0.015" filter="url(#b3)"/>
<rect x="573.9" y="358.8" width="5.2" height="15" fill="url(#sm)" opacity="0.11" filter="url(#b4)"/>
<rect x="573.6" y="357.90" width="5.7" height="2.8" rx="0.7" fill="#000" opacity="0.08" filter="url(#b1)"/>
<rect x="573.7" y="319.5" width="5.6" height="1.3" fill="#000" opacity="0.40" filter="url(#b1)"/>
<rect x="573.9" y="320.0" width="5.2" height="12" fill="#000" opacity="0.05" filter="url(#b2)"/>
</g>
<rect x="469.70" y="316.50" width="112.55" height="57.40" rx="0.8" fill="none" stroke="#4a697f" stroke-width="1.3"/>
<path d="M469.35 316.50V374.25H582.60V317.50" fill="none" stroke="#3f5f74" stroke-width="0.6" stroke-linejoin="round"/>
<path d="M478.1 314.4L582.2 305.8V314.4Z" fill="#265e9c" stroke="#2a2a2a" stroke-width="0.5"/>
<text x="524.40" y="305.50" font-size="9.7" fill="#111" text-anchor="middle" >[MraZ]</text>
<text x="574.60" y="303.90" font-size="5.45" fill="#222" stroke="#222" stroke-width="0.12" >400 nM</text>
<text x="480.20" y="311.90" font-size="5.3" fill="#222" stroke="#222" stroke-width="0.12" >10</text>
<rect x="470.5" y="313.8" width="2.6" height="1" fill="#222"/>
<text x="586.90" y="383.00" font-size="9.9" fill="#1f3777" stroke="#1f3777" stroke-width="0.1" text-anchor="end" font-style="italic" >dsDNA: Long Spacer</text>
</g>
<path d="M500.6 129.4V218.9" stroke="#222" stroke-width="1.2" fill="none"/>
<line x1="497" x2="500.6" y1="204.1" y2="204.1" stroke="#222" stroke-width="1"/>
<text x="495.20" y="206.60" font-size="6.8" fill="#000" text-anchor="end" font-weight="bold" >0.0</text>
<line x1="497" x2="500.6" y1="167.0" y2="167.0" stroke="#222" stroke-width="1"/>
<text x="495.20" y="169.50" font-size="6.8" fill="#000" text-anchor="end" font-weight="bold" >0.5</text>
<line x1="497" x2="500.6" y1="129.9" y2="129.9" stroke="#222" stroke-width="1"/>
<text x="495.20" y="132.40" font-size="6.8" fill="#000" text-anchor="end" font-weight="bold" >1.0</text>
<line x1="500.6" x2="634.2" y1="204.1" y2="204.1" stroke="#222" stroke-width="1.2"/>
<line x1="533.4" x2="533.4" y1="204.1" y2="207.3" stroke="#222" stroke-width="1"/>
<text x="533.40" y="215.80" font-size="6.4" fill="#000" text-anchor="middle" font-weight="bold" >100</text>
<line x1="566.0" x2="566.0" y1="204.1" y2="207.3" stroke="#222" stroke-width="1"/>
<text x="566.00" y="215.80" font-size="6.4" fill="#000" text-anchor="middle" font-weight="bold" >200</text>
<line x1="598.6" x2="598.6" y1="204.1" y2="207.3" stroke="#222" stroke-width="1"/>
<text x="598.60" y="215.80" font-size="6.4" fill="#000" text-anchor="middle" font-weight="bold" >300</text>
<line x1="631.2" x2="631.2" y1="204.1" y2="207.3" stroke="#222" stroke-width="1"/>
<text x="631.20" y="215.80" font-size="6.4" fill="#000" text-anchor="middle" font-weight="bold" >400</text>
<text x="567.40" y="232.20" font-size="7.3" fill="#000" text-anchor="middle" font-weight="bold" >[MraZ] nM</text>
<text transform="translate(482,175.6) rotate(-90)" font-size="7.2" font-weight="bold" text-anchor="middle">Fraction of bound DNA (a.u)</text>
<line x1="501.8" x2="631.2" y1="203.8" y2="203.8" stroke="#f5a040" stroke-width="1.5" opacity="0.72"/>
<path d="M500.8 204.1 L502.1 204.1 L503.4 204.0 L504.7 204.0 L506.0 204.0 L507.3 203.9 L508.6 203.9 L509.9 203.8 L511.2 203.8 L512.5 203.7 L513.8 203.7 L515.1 203.6 L516.4 203.5 L517.8 203.5 L519.1 203.4 L520.4 203.3 L521.7 203.3 L523.0 203.2 L524.3 203.1 L525.6 203.1 L526.9 203.0 L528.2 202.9 L529.5 202.9 L530.8 202.8 L532.1 202.7 L533.4 202.6 L534.7 202.6 L536.0 202.5 L537.3 202.4 L538.6 202.3 L539.9 202.2 L541.2 202.2 L542.5 202.1 L543.8 202.0 L545.1 201.9 L546.4 201.8 L547.7 201.7 L549.0 201.7 L550.4 201.6 L551.7 201.5 L553.0 201.4 L554.3 201.3 L555.6 201.2 L556.9 201.1 L558.2 201.0 L559.5 200.9 L560.8 200.9 L562.1 200.8 L563.4 200.7 L564.7 200.6 L566.0 200.5 L567.3 200.4 L568.6 200.3 L569.9 200.2 L571.2 200.1 L572.5 200.0 L573.8 199.9 L575.1 199.8 L576.4 199.7 L577.7 199.6 L579.0 199.5 L580.3 199.4 L581.6 199.3 L583.0 199.2 L584.3 199.1 L585.6 199.0 L586.9 198.9 L588.2 198.8 L589.5 198.7 L590.8 198.6 L592.1 198.5 L593.4 198.4 L594.7 198.3 L596.0 198.2 L597.3 198.1 L598.6 198.0 L599.9 197.9 L601.2 197.8 L602.5 197.7 L603.8 197.5 L605.1 197.4 L606.4 197.3 L607.7 197.2 L609.0 197.1 L610.3 197.0 L611.6 196.9 L612.9 196.8 L614.2 196.7 L615.6 196.6 L616.9 196.4 L618.2 196.3 L619.5 196.2 L620.8 196.1 L622.1 196.0 L623.4 195.9 L624.7 195.8 L626.0 195.7 L627.3 195.5 L628.6 195.4 L629.9 195.3 L631.2 195.2" fill="none" stroke="#b040e0" stroke-width="0.9"/>
<path d="M500.8 204.1 L502.1 204.1 L503.4 204.0 L504.7 204.0 L506.0 203.9 L507.3 203.8 L508.6 203.6 L509.9 203.5 L511.2 203.3 L512.5 203.1 L513.8 202.9 L515.1 202.7 L516.4 202.4 L517.8 202.2 L519.1 201.9 L520.4 201.6 L521.7 201.3 L523.0 200.9 L524.3 200.6 L525.6 200.2 L526.9 199.9 L528.2 199.5 L529.5 199.1 L530.8 198.7 L532.1 198.2 L533.4 197.8 L534.7 197.4 L536.0 196.9 L537.3 196.5 L538.6 196.0 L539.9 195.5 L541.2 195.0 L542.5 194.5 L543.8 194.0 L545.1 193.5 L546.4 193.0 L547.7 192.5 L549.0 192.0 L550.4 191.5 L551.7 191.0 L553.0 190.4 L554.3 189.9 L555.6 189.4 L556.9 188.8 L558.2 188.3 L559.5 187.7 L560.8 187.2 L562.1 186.7 L563.4 186.1 L564.7 185.6 L566.0 185.1 L567.3 184.5 L568.6 184.0 L569.9 183.4 L571.2 182.9 L572.5 182.4 L573.8 181.9 L575.1 181.3 L576.4 180.8 L577.7 180.3 L579.0 179.8 L580.3 179.2 L581.6 178.7 L583.0 178.2 L584.3 177.7 L585.6 177.2 L586.9 176.7 L588.2 176.2 L589.5 175.7 L590.8 175.2 L592.1 174.7 L593.4 174.3 L594.7 173.8 L596.0 173.3 L597.3 172.9 L598.6 172.4 L599.9 171.9 L601.2 171.5 L602.5 171.0 L603.8 170.6 L605.1 170.2 L606.4 169.7 L607.7 169.3 L609.0 168.9 L610.3 168.4 L611.6 168.0 L612.9 167.6 L614.2 167.2 L615.6 166.8 L616.9 166.4 L618.2 166.0 L619.5 165.6 L620.8 165.2 L622.1 164.9 L623.4 164.5 L624.7 164.1 L626.0 163.7 L627.3 163.4 L628.6 163.0 L629.9 162.7 L631.2 162.3" fill="none" stroke="#2fc22f" stroke-width="0.9"/>
<path d="M503.4 194.9 L504.7 192.7 L506.0 190.6 L507.2 188.8 L508.5 187.1 L509.8 185.6 L511.1 184.2 L512.4 182.8 L513.6 181.6 L514.9 180.5 L516.2 179.5 L517.5 178.5 L518.7 177.6 L520.0 176.7 L521.3 175.9 L522.6 175.2 L523.9 174.5 L525.1 173.8 L526.4 173.2 L527.7 172.6 L529.0 172.0 L530.2 171.5 L531.5 171.0 L532.8 170.5 L534.1 170.0 L535.4 169.6 L536.6 169.1 L537.9 168.7 L539.2 168.4 L540.5 168.0 L541.7 167.6 L543.0 167.3 L544.3 167.0 L545.6 166.6 L546.9 166.3 L548.1 166.0 L549.4 165.8 L550.7 165.5 L552.0 165.2 L553.2 165.0 L554.5 164.7 L555.8 164.5 L557.1 164.3 L558.4 164.1 L559.6 163.8 L560.9 163.6 L562.2 163.4 L563.5 163.2 L564.7 163.0 L566.0 162.9 L567.3 162.7 L568.6 162.5 L569.9 162.3 L571.1 162.2 L572.4 162.0 L573.7 161.9 L575.0 161.7 L576.2 161.6 L577.5 161.4 L578.8 161.3 L580.1 161.2 L581.4 161.0 L582.6 160.9 L583.9 160.8 L585.2 160.7 L586.5 160.5 L587.8 160.4 L589.0 160.3 L590.3 160.2 L591.6 160.1 L592.9 160.0 L594.1 159.9 L595.4 159.8 L596.7 159.7 L598.0 159.6 L599.3 159.5 L600.5 159.4 L601.8 159.3 L603.1 159.2 L604.4 159.1 L605.6 159.0 L606.9 159.0 L608.2 158.9 L609.5 158.8 L610.8 158.7 L612.0 158.6 L613.3 158.6 L614.6 158.5 L615.9 158.4 L617.1 158.3 L618.4 158.3 L619.7 158.2 L621.0 158.1 L622.3 158.1 L623.5 158.0 L624.8 157.9 L626.1 157.9 L627.4 157.8 L628.6 157.7 L629.9 157.7 L631.2 157.6" fill="none" stroke="#f3221b" stroke-width="0.9"/>
<path d="M500.8 204.1 L502.1 203.9 L503.4 203.0 L504.7 201.2 L506.0 198.4 L507.3 194.7 L508.6 190.3 L509.9 185.5 L511.2 180.6 L512.5 175.9 L513.8 171.4 L515.1 167.2 L516.4 163.5 L517.8 160.1 L519.1 157.2 L520.4 154.6 L521.7 152.4 L523.0 150.4 L524.3 148.7 L525.6 147.3 L526.9 146.0 L528.2 144.8 L529.5 143.8 L530.8 143.0 L532.1 142.2 L533.4 141.5 L534.7 140.9 L536.0 140.4 L537.3 139.9 L538.6 139.5 L539.9 139.1 L541.2 138.7 L542.5 138.4 L543.8 138.1 L545.1 137.9 L546.4 137.6 L547.7 137.4 L549.0 137.2 L550.4 137.0 L551.7 136.9 L553.0 136.7 L554.3 136.6 L555.6 136.5 L556.9 136.3 L558.2 136.2 L559.5 136.1 L560.8 136.0 L562.1 136.0 L563.4 135.9 L564.7 135.8 L566.0 135.7 L567.3 135.7 L568.6 135.6 L569.9 135.5 L571.2 135.5 L572.5 135.4 L573.8 135.4 L575.1 135.4 L576.4 135.3 L577.7 135.3 L579.0 135.2 L580.3 135.2 L581.6 135.2 L583.0 135.1 L584.3 135.1 L585.6 135.1 L586.9 135.0 L588.2 135.0 L589.5 135.0 L590.8 135.0 L592.1 135.0 L593.4 134.9 L594.7 134.9 L596.0 134.9 L597.3 134.9 L598.6 134.9 L599.9 134.8 L601.2 134.8 L602.5 134.8 L603.8 134.8 L605.1 134.8 L606.4 134.8 L607.7 134.8 L609.0 134.7 L610.3 134.7 L611.6 134.7 L612.9 134.7 L614.2 134.7 L615.6 134.7 L616.9 134.7 L618.2 134.7 L619.5 134.7 L620.8 134.7 L622.1 134.6 L623.4 134.6 L624.7 134.6 L626.0 134.6 L627.3 134.6 L628.6 134.6 L629.9 134.6 L631.2 134.6" fill="none" stroke="#1540f0" stroke-width="0.9"/>
<path d="M503.9 207.1L505.7 205.3L507.5 207.1L505.7 208.9Z" fill="#ff9a1e"/>
<path d="M512.0 195.2L513.8 193.4L515.6 195.2L513.8 197.0Z" fill="#ff9a1e"/>
<path d="M515.3 204.1L517.1 202.3L518.9 204.1L517.1 205.9Z" fill="#ff9a1e"/>
<path d="M538.1 207.1L539.9 205.3L541.7 207.1L539.9 208.9Z" fill="#ff9a1e"/>
<path d="M544.6 208.6L546.4 206.8L548.2 208.6L546.4 210.4Z" fill="#ff9a1e"/>
<path d="M551.2 211.5L553.0 209.7L554.8 211.5L553.0 213.3Z" fill="#ff9a1e"/>
<path d="M564.2 210.0L566.0 208.2L567.8 210.0L566.0 211.8Z" fill="#ff9a1e"/>
<path d="M629.4 207.8L631.2 206.0L633.0 207.8L631.2 209.6Z" fill="#ff9a1e"/>
<path d="M502.0 207.6H506.1L504.1 211.4Z" fill="#b040e0"/>
<path d="M505.2 202.4H509.4L507.3 206.2Z" fill="#b040e0"/>
<path d="M511.8 203.9H515.9L513.8 207.7Z" fill="#b040e0"/>
<path d="M515.0 198.7H519.2L517.1 202.5Z" fill="#b040e0"/>
<path d="M518.3 201.6H522.5L520.4 205.4Z" fill="#b040e0"/>
<path d="M524.8 198.7H529.0L526.9 202.5Z" fill="#b040e0"/>
<path d="M531.3 204.6H535.5L533.4 208.4Z" fill="#b040e0"/>
<path d="M537.8 202.4H542.0L539.9 206.2Z" fill="#b040e0"/>
<path d="M544.4 196.5H548.5L546.4 200.3Z" fill="#b040e0"/>
<path d="M550.9 200.9H555.1L553.0 204.7Z" fill="#b040e0"/>
<path d="M563.9 198.7H568.1L566.0 202.5Z" fill="#b040e0"/>
<path d="M629.1 193.5H633.3L631.2 197.3Z" fill="#b040e0"/>
<path d="M501.9 208.1H506.3L504.1 204.1Z" fill="#2fc22f"/>
<path d="M505.1 202.9H509.5L507.3 198.9Z" fill="#2fc22f"/>
<path d="M511.6 197.7H516.0L513.8 193.7Z" fill="#2fc22f"/>
<path d="M514.9 210.4H519.3L517.1 206.4Z" fill="#2fc22f"/>
<path d="M518.2 201.4H522.6L520.4 197.4Z" fill="#2fc22f"/>
<path d="M524.7 210.4H529.1L526.9 206.4Z" fill="#2fc22f"/>
<path d="M531.2 200.7H535.6L533.4 196.7Z" fill="#2fc22f"/>
<path d="M537.7 198.5H542.1L539.9 194.5Z" fill="#2fc22f"/>
<path d="M544.2 192.5H548.6L546.4 188.5Z" fill="#2fc22f"/>
<path d="M550.8 188.8H555.2L553.0 184.8Z" fill="#2fc22f"/>
<path d="M563.8 191.1H568.2L566.0 187.1Z" fill="#2fc22f"/>
<path d="M629.0 163.6H633.4L631.2 159.6Z" fill="#2fc22f"/>
<rect x="500.5" y="191.1" width="3.8" height="3.8" fill="#f3221b"/>
<rect x="502.2" y="191.1" width="3.8" height="3.8" fill="#f3221b"/>
<rect x="505.4" y="190.3" width="3.8" height="3.8" fill="#f3221b"/>
<rect x="511.9" y="182.2" width="3.8" height="3.8" fill="#f3221b"/>
<rect x="515.2" y="182.9" width="3.8" height="3.8" fill="#f3221b"/>
<rect x="518.5" y="177.7" width="3.8" height="3.8" fill="#f3221b"/>
<rect x="525.0" y="171.8" width="3.8" height="3.8" fill="#f3221b"/>
<rect x="531.5" y="164.4" width="3.8" height="3.8" fill="#f3221b"/>
<rect x="538.0" y="162.9" width="3.8" height="3.8" fill="#f3221b"/>
<rect x="544.5" y="162.1" width="3.8" height="3.8" fill="#f3221b"/>
<rect x="551.1" y="165.1" width="3.8" height="3.8" fill="#f3221b"/>
<rect x="564.1" y="160.6" width="3.8" height="3.8" fill="#f3221b"/>
<rect x="629.3" y="156.9" width="3.8" height="3.8" fill="#f3221b"/>
<circle cx="500.8" cy="204.1" r="2.0" fill="#1540f0"/>
<circle cx="504.1" cy="200.4" r="2.0" fill="#1540f0"/>
<circle cx="505.7" cy="198.9" r="2.0" fill="#1540f0"/>
<circle cx="507.3" cy="196.7" r="2.0" fill="#1540f0"/>
<circle cx="513.8" cy="170.7" r="2.0" fill="#1540f0"/>
<circle cx="517.1" cy="166.3" r="2.0" fill="#1540f0"/>
<circle cx="520.4" cy="155.1" r="2.0" fill="#1540f0"/>
<circle cx="526.9" cy="144.0" r="2.0" fill="#1540f0"/>
<circle cx="533.4" cy="144.0" r="2.0" fill="#1540f0"/>
<circle cx="539.9" cy="138.1" r="2.0" fill="#1540f0"/>
<circle cx="546.4" cy="136.6" r="2.0" fill="#1540f0"/>
<circle cx="553.0" cy="135.1" r="2.0" fill="#1540f0"/>
<circle cx="566.0" cy="137.3" r="2.0" fill="#1540f0"/>
<circle cx="631.2" cy="134.4" r="2.0" fill="#1540f0"/>
<line x1="640.5" x2="649.8" y1="135.7" y2="135.7" stroke="#1540f0" stroke-width="0.9"/>
<circle cx="645.2" cy="135.7" r="1.5" fill="#1540f0"/>
<text x="656.10" y="138.60" font-size="8.3" fill="#1f3472" stroke="#1f3472" stroke-width="0.15" font-style="italic" >4BOX</text>
<line x1="640.5" x2="649.8" y1="148.4" y2="148.4" stroke="#f3221b" stroke-width="0.9"/>
<rect x="643.7" y="146.9" width="3.0" height="3.0" fill="#f3221b"/>
<text x="656.10" y="151.20" font-size="8.3" fill="#1f3472" stroke="#1f3472" stroke-width="0.15" font-style="italic" >3BOX</text>
<line x1="640.5" x2="649.8" y1="161.6" y2="161.6" stroke="#2fc22f" stroke-width="0.9"/>
<path d="M643.8 162.8H646.6L645.2 160.2Z" fill="#2fc22f"/>
<text x="656.10" y="164.40" font-size="8.3" fill="#1f3472" stroke="#1f3472" stroke-width="0.15" font-style="italic" >2BOX</text>
<line x1="640.5" x2="649.8" y1="173.6" y2="173.6" stroke="#b040e0" stroke-width="0.9"/>
<path d="M643.9 172.5H646.5L645.2 174.9Z" fill="#b040e0"/>
<text x="656.10" y="177.30" font-size="8.3" fill="#1f3472" stroke="#1f3472" stroke-width="0.15" font-style="italic" >1BOX</text>
<line x1="640.5" x2="649.8" y1="186.2" y2="186.2" stroke="#ff9a1e" stroke-width="0.9"/>
<path d="M643.9 186.2L645.2 184.9L646.5 186.2L645.2 187.5Z" fill="#ff9a1e"/>
<text x="656.10" y="189.90" font-size="8.3" fill="#1f3472" stroke="#1f3472" stroke-width="0.15" font-style="italic" >Δ4BOX</text>
<path d="M409.2 415.4V494.6" stroke="#111" stroke-width="1.2" fill="none"/>
<line x1="406.2" x2="409.2" y1="494.6" y2="494.6" stroke="#111" stroke-width="1"/>
<text x="405.30" y="496.65" font-size="5.9" fill="#000" stroke="#000" stroke-width="0.12" text-anchor="end" font-weight="bold" >0.0</text>
<line x1="406.2" x2="409.2" y1="455.2" y2="455.2" stroke="#111" stroke-width="1"/>
<text x="405.30" y="457.30" font-size="5.9" fill="#000" stroke="#000" stroke-width="0.12" text-anchor="end" font-weight="bold" >0.5</text>
<line x1="406.2" x2="409.2" y1="415.9" y2="415.9" stroke="#111" stroke-width="1"/>
<text x="405.30" y="417.95" font-size="5.9" fill="#000" stroke="#000" stroke-width="0.12" text-anchor="end" font-weight="bold" >1.0</text>
<line x1="408.6" x2="527.6" y1="494.6" y2="494.6" stroke="#111" stroke-width="1.2"/>
<line x1="409.2" x2="409.2" y1="494.6" y2="498" stroke="#111" stroke-width="1"/>
<text x="409.20" y="505.00" font-size="5.9" fill="#000" stroke="#000" stroke-width="0.12" text-anchor="middle" font-weight="bold" >0</text>
<line x1="438.2" x2="438.2" y1="494.6" y2="498" stroke="#111" stroke-width="1"/>
<text x="438.23" y="505.00" font-size="5.9" fill="#000" stroke="#000" stroke-width="0.12" text-anchor="middle" font-weight="bold" >100</text>
<line x1="467.3" x2="467.3" y1="494.6" y2="498" stroke="#111" stroke-width="1"/>
<text x="467.26" y="505.00" font-size="5.9" fill="#000" stroke="#000" stroke-width="0.12" text-anchor="middle" font-weight="bold" >200</text>
<line x1="496.3" x2="496.3" y1="494.6" y2="498" stroke="#111" stroke-width="1"/>
<text x="496.29" y="505.00" font-size="5.9" fill="#000" stroke="#000" stroke-width="0.12" text-anchor="middle" font-weight="bold" >300</text>
<line x1="525.3" x2="525.3" y1="494.6" y2="498" stroke="#111" stroke-width="1"/>
<text x="525.32" y="505.00" font-size="5.9" fill="#000" stroke="#000" stroke-width="0.12" text-anchor="middle" font-weight="bold" >400</text>
<text x="468.80" y="514.60" font-size="6.6" fill="#000" stroke="#000" stroke-width="0.12" text-anchor="middle" font-weight="bold" >[MraZ] nM</text>
<text transform="translate(392.8,456.0) rotate(-90)" font-size="6.5" font-weight="bold" text-anchor="middle">Fraction of bound DNA (a.u)</text>
<path d="M409.2 494.6 L410.4 494.1 L411.5 493.5 L412.7 493.0 L413.8 492.5 L415.0 491.9 L416.2 491.4 L417.3 490.9 L418.5 490.4 L419.7 489.8 L420.8 489.3 L422.0 488.8 L423.1 488.3 L424.3 487.8 L425.5 487.3 L426.6 486.8 L427.8 486.3 L428.9 485.8 L430.1 485.3 L431.3 484.8 L432.4 484.3 L433.6 483.8 L434.7 483.3 L435.9 482.9 L437.1 482.4 L438.2 481.9 L439.4 481.4 L440.6 481.0 L441.7 480.5 L442.9 480.0 L444.0 479.6 L445.2 479.1 L446.4 478.6 L447.5 478.2 L448.7 477.7 L449.8 477.3 L451.0 476.8 L452.2 476.4 L453.3 475.9 L454.5 475.5 L455.6 475.0 L456.8 474.6 L458.0 474.2 L459.1 473.7 L460.3 473.3 L461.5 472.9 L462.6 472.4 L463.8 472.0 L464.9 471.6 L466.1 471.2 L467.3 470.8 L468.4 470.3 L469.6 469.9 L470.7 469.5 L471.9 469.1 L473.1 468.7 L474.2 468.3 L475.4 467.9 L476.5 467.5 L477.7 467.1 L478.9 466.7 L480.0 466.3 L481.2 465.9 L482.4 465.5 L483.5 465.1 L484.7 464.7 L485.8 464.3 L487.0 463.9 L488.2 463.5 L489.3 463.1 L490.5 462.8 L491.6 462.4 L492.8 462.0 L494.0 461.6 L495.1 461.2 L496.3 460.9 L497.5 460.5 L498.6 460.1 L499.8 459.8 L500.9 459.4 L502.1 459.0 L503.3 458.7 L504.4 458.3 L505.6 457.9 L506.7 457.6 L507.9 457.2 L509.1 456.9 L510.2 456.5 L511.4 456.2 L512.5 455.8 L513.7 455.5 L514.9 455.1 L516.0 454.8 L517.2 454.4 L518.4 454.1 L519.5 453.7 L520.7 453.4 L521.8 453.1 L523.0 452.7 L524.2 452.4 L525.3 452.1" fill="none" stroke="#b5802e" stroke-width="0.7"/>
<path d="M409.2 494.6 L410.4 494.6 L411.5 494.5 L412.7 494.5 L413.8 494.3 L415.0 494.2 L416.2 494.0 L417.3 493.7 L418.5 493.4 L419.7 493.0 L420.8 492.5 L422.0 492.0 L423.1 491.5 L424.3 490.9 L425.5 490.2 L426.6 489.5 L427.8 488.8 L428.9 488.0 L430.1 487.1 L431.3 486.2 L432.4 485.3 L433.6 484.3 L434.7 483.3 L435.9 482.2 L437.1 481.1 L438.2 480.0 L439.4 478.9 L440.6 477.7 L441.7 476.6 L442.9 475.4 L444.0 474.2 L445.2 472.9 L446.4 471.7 L447.5 470.5 L448.7 469.2 L449.8 468.0 L451.0 466.8 L452.2 465.6 L453.3 464.3 L454.5 463.1 L455.6 461.9 L456.8 460.7 L458.0 459.5 L459.1 458.4 L460.3 457.2 L461.5 456.1 L462.6 454.9 L463.8 453.8 L464.9 452.8 L466.1 451.7 L467.3 450.6 L468.4 449.6 L469.6 448.6 L470.7 447.6 L471.9 446.6 L473.1 445.7 L474.2 444.8 L475.4 443.8 L476.5 443.0 L477.7 442.1 L478.9 441.2 L480.0 440.4 L481.2 439.6 L482.4 438.8 L483.5 438.0 L484.7 437.3 L485.8 436.5 L487.0 435.8 L488.2 435.1 L489.3 434.4 L490.5 433.8 L491.6 433.1 L492.8 432.5 L494.0 431.9 L495.1 431.3 L496.3 430.7 L497.5 430.1 L498.6 429.6 L499.8 429.0 L500.9 428.5 L502.1 428.0 L503.3 427.5 L504.4 427.0 L505.6 426.5 L506.7 426.1 L507.9 425.6 L509.1 425.2 L510.2 424.8 L511.4 424.4 L512.5 423.9 L513.7 423.6 L514.9 423.2 L516.0 422.8 L517.2 422.4 L518.4 422.1 L519.5 421.7 L520.7 421.4 L521.8 421.1 L523.0 420.7 L524.2 420.4 L525.3 420.1" fill="none" stroke="#1c2aa5" stroke-width="0.7"/>
<path d="M409.2 494.6 L410.4 494.4 L411.5 493.4 L412.7 491.5 L413.8 488.5 L415.0 484.6 L416.2 480.0 L417.3 474.9 L418.5 469.7 L419.7 464.7 L420.8 459.9 L422.0 455.5 L423.1 451.5 L424.3 448.0 L425.5 444.9 L426.6 442.1 L427.8 439.8 L428.9 437.7 L430.1 435.9 L431.3 434.3 L432.4 432.9 L433.6 431.7 L434.7 430.7 L435.9 429.8 L437.1 428.9 L438.2 428.2 L439.4 427.6 L440.6 427.0 L441.7 426.5 L442.9 426.0 L444.0 425.6 L445.2 425.3 L446.4 424.9 L447.5 424.6 L448.7 424.3 L449.8 424.1 L451.0 423.9 L452.2 423.7 L453.3 423.5 L454.5 423.3 L455.6 423.1 L456.8 423.0 L458.0 422.9 L459.1 422.7 L460.3 422.6 L461.5 422.5 L462.6 422.4 L463.8 422.3 L464.9 422.2 L466.1 422.2 L467.3 422.1 L468.4 422.0 L469.6 422.0 L470.7 421.9 L471.9 421.8 L473.1 421.8 L474.2 421.7 L475.4 421.7 L476.5 421.6 L477.7 421.6 L478.9 421.6 L480.0 421.5 L481.2 421.5 L482.4 421.5 L483.5 421.4 L484.7 421.4 L485.8 421.4 L487.0 421.3 L488.2 421.3 L489.3 421.3 L490.5 421.3 L491.6 421.2 L492.8 421.2 L494.0 421.2 L495.1 421.2 L496.3 421.2 L497.5 421.1 L498.6 421.1 L499.8 421.1 L500.9 421.1 L502.1 421.1 L503.3 421.1 L504.4 421.1 L505.6 421.0 L506.7 421.0 L507.9 421.0 L509.1 421.0 L510.2 421.0 L511.4 421.0 L512.5 421.0 L513.7 421.0 L514.9 421.0 L516.0 420.9 L517.2 420.9 L518.4 420.9 L519.5 420.9 L520.7 420.9 L521.8 420.9 L523.0 420.9 L524.2 420.9 L525.3 420.9" fill="none" stroke="#1f55f0" stroke-width="0.7"/>
<rect x="407.3" y="492.7" width="3.8" height="3.8" fill="#b5802e"/>
<rect x="410.2" y="491.1" width="3.8" height="3.8" fill="#b5802e"/>
<rect x="413.1" y="488.0" width="3.8" height="3.8" fill="#b5802e"/>
<rect x="421.8" y="492.7" width="3.8" height="3.8" fill="#b5802e"/>
<rect x="424.7" y="483.3" width="3.8" height="3.8" fill="#b5802e"/>
<rect x="430.5" y="480.1" width="3.8" height="3.8" fill="#b5802e"/>
<rect x="436.3" y="484.8" width="3.8" height="3.8" fill="#b5802e"/>
<rect x="442.1" y="477.0" width="3.8" height="3.8" fill="#b5802e"/>
<rect x="447.9" y="474.6" width="3.8" height="3.8" fill="#b5802e"/>
<rect x="453.7" y="473.8" width="3.8" height="3.8" fill="#b5802e"/>
<rect x="465.4" y="470.7" width="3.8" height="3.8" fill="#b5802e"/>
<rect x="523.4" y="450.2" width="3.8" height="3.8" fill="#b5802e"/>
<path d="M407.0 496.4H411.4L409.2 492.4Z" fill="#1c2aa5"/>
<path d="M424.4 485.4H428.8L426.6 481.4Z" fill="#1c2aa5"/>
<path d="M430.2 486.2H434.6L432.4 482.2Z" fill="#1c2aa5"/>
<path d="M436.0 481.4H440.4L438.2 477.4Z" fill="#1c2aa5"/>
<path d="M441.8 475.9H446.2L444.0 471.9Z" fill="#1c2aa5"/>
<path d="M447.6 460.2H452.0L449.8 456.2Z" fill="#1c2aa5"/>
<path d="M453.4 467.3H457.8L455.6 463.3Z" fill="#1c2aa5"/>
<path d="M465.1 451.5H469.5L467.3 447.5Z" fill="#1c2aa5"/>
<path d="M523.1 420.8H527.5L525.3 416.8Z" fill="#1c2aa5"/>
<circle cx="409.2" cy="494.6" r="1.7" fill="#1f55f0"/>
<circle cx="412.1" cy="490.7" r="1.7" fill="#1f55f0"/>
<circle cx="413.6" cy="489.1" r="1.7" fill="#1f55f0"/>
<circle cx="415.0" cy="486.7" r="1.7" fill="#1f55f0"/>
<circle cx="420.8" cy="459.2" r="1.7" fill="#1f55f0"/>
<circle cx="423.7" cy="454.5" r="1.7" fill="#1f55f0"/>
<circle cx="426.6" cy="442.7" r="1.7" fill="#1f55f0"/>
<circle cx="432.4" cy="430.9" r="1.7" fill="#1f55f0"/>
<circle cx="438.2" cy="430.9" r="1.7" fill="#1f55f0"/>
<circle cx="444.0" cy="424.6" r="1.7" fill="#1f55f0"/>
<circle cx="449.8" cy="423.0" r="1.7" fill="#1f55f0"/>
<circle cx="455.6" cy="421.4" r="1.7" fill="#1f55f0"/>
<circle cx="467.3" cy="423.8" r="1.7" fill="#1f55f0"/>
<circle cx="525.3" cy="420.6" r="1.7" fill="#1f55f0"/>
<line x1="538.6" x2="550.4" y1="430.8" y2="430.8" stroke="#1a3cff" stroke-width="1.1"/>
<circle cx="544.4" cy="430.8" r="2.1" fill="#1a3cff"/>
<text x="554.20" y="433.80" font-size="8.3" fill="#111" stroke="#111" stroke-width="0.1" font-style="italic" >4BOX</text>
<line x1="538.6" x2="550.4" y1="443.8" y2="443.8" stroke="#a87a22" stroke-width="1.1"/>
<rect x="542.1" y="441.5" width="4.6" height="4.6" fill="#a87a22"/>
<text x="554.20" y="446.80" font-size="8.3" fill="#111" stroke="#111" stroke-width="0.1" font-style="italic" >ΔMID2BOX</text>
<line x1="538.6" x2="550.4" y1="458" y2="458" stroke="#1a1aa8" stroke-width="1.1"/>
<path d="M542.0 460.0H546.8L544.4 455.6Z" fill="#1a1aa8"/>
<text x="554.20" y="461.00" font-size="8.3" fill="#111" stroke="#111" stroke-width="0.1" font-style="italic" >Long Spacer</text>
<line x1="37.5" y1="287" x2="220.8" y2="287" stroke="#000" stroke-width="2.1"/>
<rect x="44.5" y="283.7" width="19.0" height="6.8" fill="#fdd283" stroke="#f4a77c" stroke-width="1"/>
<rect x="72.5" y="283.7" width="19.0" height="6.8" fill="#fdd283" stroke="#f4a77c" stroke-width="1"/>
<rect x="100.6" y="283.7" width="19.3" height="6.8" fill="#fdd283" stroke="#f4a77c" stroke-width="1"/>
<rect x="128.2" y="283.7" width="19.0" height="6.8" fill="#fdd283" stroke="#f4a77c" stroke-width="1"/>
<path d="M161.9 281.5H199.3V275.2L211.4 287.1L199.3 299.1V292.8H161.9Z" fill="#3ec44a" stroke="#1f7a2a" stroke-width="1.1"/>
<text x="183.60" y="290.00" font-size="8.3" fill="#0c240c" text-anchor="middle" >GFP</text>
<path d="M56.3 295.6V301.6H136.8V295.6M96.7 301.6V306.8" fill="none" stroke="#000" stroke-width="2" stroke-linejoin="round"/>
<text x="79.90" y="317.20" font-size="5.7" fill="#222" >MraZ binding boxes</text>
<path d="M69 328.4V453.4" stroke="#000" stroke-width="1.2" fill="none"/>
<line x1="64.5" x2="69" y1="453.4" y2="453.4" stroke="#000" stroke-width="1.2"/>
<text x="60.70" y="456.90" font-size="10" fill="#000" stroke="#000" stroke-width="0.1" text-anchor="end" font-weight="bold" >0.0</text>
<line x1="64.5" x2="69" y1="411.8" y2="411.8" stroke="#000" stroke-width="1.2"/>
<text x="60.70" y="415.30" font-size="10" fill="#000" stroke="#000" stroke-width="0.1" text-anchor="end" font-weight="bold" >0.4</text>
<line x1="64.5" x2="69" y1="370.2" y2="370.2" stroke="#000" stroke-width="1.2"/>
<text x="60.70" y="373.70" font-size="10" fill="#000" stroke="#000" stroke-width="0.1" text-anchor="end" font-weight="bold" >0.8</text>
<line x1="64.5" x2="69" y1="328.6" y2="328.6" stroke="#000" stroke-width="1.2"/>
<text x="60.70" y="332.10" font-size="10" fill="#000" stroke="#000" stroke-width="0.1" text-anchor="end" font-weight="bold" >1.2</text>
<text transform="translate(40.4,391.3) rotate(-90)" font-size="10" font-weight="bold" stroke="#000" stroke-width="0.15" text-anchor="middle">Fluorescence (a.u.)</text>
<rect x="75.8" y="349.6" width="10.4" height="103.8" fill="#8af6a0" stroke="#25e64e" stroke-width="1.7"/>
<circle cx="78.4" cy="349.4" r="2.5" fill="#25e64e"/>
<circle cx="81.0" cy="349.4" r="2.5" fill="#25e64e"/>
<circle cx="83.6" cy="349.4" r="2.5" fill="#25e64e"/>
<line x1="81.0" x2="81.0" y1="453.4" y2="458.4" stroke="#000" stroke-width="1.2"/>
<text transform="translate(78.8,466.2) rotate(64)" font-size="9.5" fill="#223c7e" stroke="#223c7e" stroke-width="0.2">no MraZ</text>
<rect x="94.2" y="449.2" width="10.4" height="4.2" fill="#8f8fff" stroke="#2d2dff" stroke-width="1.7"/>
<circle cx="96.8" cy="448.7" r="2.5" fill="#2d2dff"/>
<circle cx="99.4" cy="449.2" r="2.5" fill="#2d2dff"/>
<circle cx="102.0" cy="449.0" r="2.5" fill="#2d2dff"/>
<line x1="99.4" x2="99.4" y1="453.4" y2="458.4" stroke="#000" stroke-width="1.2"/>
<text x="99.40" y="416.90" font-size="9.7" fill="#111" text-anchor="middle" >****</text>
<text transform="translate(98.3,465.2) rotate(64)" font-size="9.5" fill="#223c7e" stroke="#223c7e" stroke-width="0.2">4BOX</text>
<rect x="112.6" y="418.9" width="10.4" height="34.5" fill="#f6907f" stroke="#ef2414" stroke-width="1.7"/>
<path d="M117.8 415.5V421.8M115.6 415.5H120.0M115.6 421.8H120.0" stroke="#ef2414" stroke-width="0.9" fill="none"/>
<circle cx="118.1" cy="413.4" r="2.5" fill="#ef2414"/>
<circle cx="115.4" cy="421.2" r="2.5" fill="#ef2414"/>
<circle cx="120.2" cy="421.2" r="2.5" fill="#ef2414"/>
<line x1="117.8" x2="117.8" y1="453.4" y2="458.4" stroke="#000" stroke-width="1.2"/>
<text x="117.80" y="391.70" font-size="9.7" fill="#111" text-anchor="middle" >****</text>
<text transform="translate(116.7,465.1) rotate(64)" font-size="9.5" fill="#223c7e" stroke="#223c7e" stroke-width="0.2">3BOX</text>
<rect x="131.0" y="409.7" width="10.4" height="43.7" fill="#a6e88a" stroke="#34c222" stroke-width="1.7"/>
<path d="M136.2 400.7V418.4M134.0 400.7H138.4M134.0 418.4H138.4" stroke="#34c222" stroke-width="0.9" fill="none"/>
<circle cx="136.4" cy="392.0" r="2.5" fill="#34c222"/>
<circle cx="136.6" cy="415.4" r="2.5" fill="#34c222"/>
<circle cx="136.5" cy="420.6" r="2.5" fill="#34c222"/>
<line x1="136.2" x2="136.2" y1="453.4" y2="458.4" stroke="#000" stroke-width="1.2"/>
<text x="136.20" y="375.50" font-size="9.7" fill="#111" text-anchor="middle" >**</text>
<text transform="translate(135.3,465.4) rotate(64)" font-size="9.5" fill="#223c7e" stroke="#223c7e" stroke-width="0.2">2BOX</text>
<rect x="149.4" y="374.8" width="10.4" height="78.6" fill="#dfa6f7" stroke="#b545f0" stroke-width="1.7"/>
<path d="M154.6 372.5V376.6M152.4 372.5H156.8M152.4 376.6H156.8" stroke="#b545f0" stroke-width="0.9" fill="none"/>
<circle cx="154.3" cy="370.2" r="2.5" fill="#b545f0"/>
<circle cx="152.0" cy="375.9" r="2.5" fill="#b545f0"/>
<circle cx="157.2" cy="376.4" r="2.5" fill="#b545f0"/>
<line x1="154.6" x2="154.6" y1="453.4" y2="458.4" stroke="#000" stroke-width="1.2"/>
<text x="154.60" y="353.90" font-size="9.7" fill="#111" text-anchor="middle" >***</text>
<text transform="translate(153.9,465.2) rotate(64)" font-size="9.5" fill="#223c7e" stroke="#223c7e" stroke-width="0.2">1BOX</text>
<rect x="167.8" y="392.2" width="10.4" height="61.2" fill="#ffd08a" stroke="#ff980f" stroke-width="1.7"/>
<path d="M173.0 390.8V393.3M170.8 390.8H175.2M170.8 393.3H175.2" stroke="#ff980f" stroke-width="0.9" fill="none"/>
<circle cx="170.0" cy="389.4" r="2.5" fill="#ff980f"/>
<circle cx="173.2" cy="394.3" r="2.5" fill="#ff980f"/>
<circle cx="176.4" cy="391.8" r="2.5" fill="#ff980f"/>
<line x1="173.0" x2="173.0" y1="453.4" y2="458.4" stroke="#000" stroke-width="1.2"/>
<text x="173.00" y="363.90" font-size="9.7" fill="#111" text-anchor="middle" >****</text>
<text transform="translate(170.8,465.5) rotate(64)" font-size="9.5" fill="#223c7e" stroke="#223c7e" stroke-width="0.2">Δ4BOX</text>
<rect x="186.2" y="417.0" width="10.4" height="36.4" fill="#dcc59b" stroke="#b38645" stroke-width="1.7"/>
<path d="M191.4 412.6V421.0M189.2 412.6H193.6M189.2 421.0H193.6" stroke="#b38645" stroke-width="0.9" fill="none"/>
<circle cx="188.4" cy="409.7" r="2.5" fill="#b38645"/>
<circle cx="194.6" cy="414.4" r="2.5" fill="#b38645"/>
<circle cx="191.9" cy="423.8" r="2.5" fill="#b38645"/>
<line x1="191.4" x2="191.4" y1="453.4" y2="458.4" stroke="#000" stroke-width="1.2"/>
<text x="191.40" y="382.50" font-size="9.7" fill="#111" text-anchor="middle" >***</text>
<text transform="translate(186.4,466.2) rotate(64)" font-size="9.5" fill="#223c7e" stroke="#223c7e" stroke-width="0.2">ΔMID2BOX</text>
<line x1="64.5" x2="204" y1="453.4" y2="453.4" stroke="#000" stroke-width="1.2"/>
</svg>
</body></html>
